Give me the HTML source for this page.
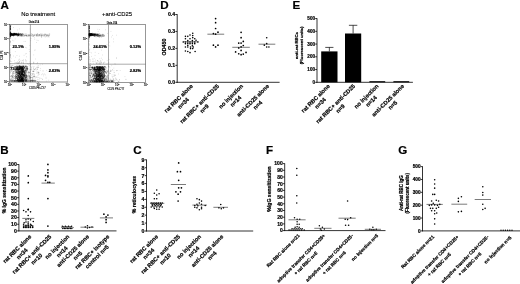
<!DOCTYPE html>
<html><head><meta charset="utf-8"><title>Figure</title>
<style>
html,body{margin:0;padding:0;background:#fff;}
body{width:520px;height:284px;overflow:hidden;}
svg{display:block;font-family:"Liberation Sans",sans-serif;filter:blur(0.3px);}
text[font-weight="bold"]{stroke:#000;stroke-width:0.2px;}
text[font-weight="normal"]{stroke:#000;stroke-width:0.12px;}
</style></head><body>
<svg width="520" height="284" viewBox="0 0 520 284">
<rect width="520" height="284" fill="#fff"/>
<text x="0.60" y="9.40" font-size="11.6" text-anchor="start" font-weight="bold">A</text>
<text x="160.30" y="9.40" font-size="11.6" text-anchor="start" font-weight="bold">D</text>
<text x="292.60" y="9.40" font-size="11.6" text-anchor="start" font-weight="bold">E</text>
<text x="0.30" y="153.70" font-size="11.6" text-anchor="start" font-weight="bold">B</text>
<text x="133.20" y="153.70" font-size="11.6" text-anchor="start" font-weight="bold">C</text>
<text x="266.00" y="153.70" font-size="11.6" text-anchor="start" font-weight="bold">F</text>
<text x="398.20" y="153.70" font-size="11.6" text-anchor="start" font-weight="bold">G</text>
<path d="M25.2 70.3h.7M25.7 75.1h.7M17.8 81.1h.7M16.5 69.0h.7M20.6 67.1h.7M21.8 81.8h.7M24.4 76.0h.7M21.3 79.4h.7M23.4 78.4h.7M23.2 72.5h.7M23.1 67.1h.7M23.4 78.2h.7M16.8 81.7h.7M21.0 69.7h.7M24.7 77.0h.7M15.6 74.6h.7M20.8 75.2h.7M25.9 66.2h.7M22.4 76.7h.7M21.0 79.2h.7M25.1 75.7h.7M17.0 76.2h.7M20.6 68.4h.7M22.3 75.2h.7M24.7 77.5h.7M18.0 75.7h.7M18.0 79.2h.7M17.9 69.4h.7M23.7 81.2h.7M21.1 72.8h.7M22.6 81.3h.7M20.8 75.7h.7M20.4 76.9h.7M21.2 79.8h.7M24.2 79.5h.7M18.9 69.4h.7M22.9 71.2h.7M20.5 74.7h.7M19.2 73.7h.7M18.5 72.7h.7M18.6 68.3h.7M26.0 76.4h.7M26.8 66.6h.7M26.0 74.8h.7M20.3 77.5h.7M19.5 79.7h.7M18.1 72.1h.7M16.7 70.0h.7M14.8 71.7h.7M23.4 71.0h.7M26.3 77.1h.7M27.3 68.1h.7M19.7 81.7h.7M18.5 77.0h.7M22.4 68.1h.7M19.7 80.1h.7M21.9 70.7h.7M19.4 78.3h.7M19.6 72.4h.7M19.9 75.8h.7M16.4 72.2h.7M19.8 74.3h.7M16.4 76.8h.7M15.1 77.8h.7M25.0 78.2h.7M15.6 74.2h.7M19.7 81.3h.7M22.2 72.7h.7M21.6 69.8h.7M26.0 77.9h.7M21.0 80.0h.7M19.0 69.5h.7M15.1 75.8h.7M19.5 77.6h.7M25.7 76.4h.7M21.8 81.4h.7M22.4 76.7h.7M19.6 75.0h.7M16.6 70.9h.7M22.9 75.1h.7M24.4 67.5h.7M20.5 81.3h.7M20.3 68.2h.7M14.5 68.8h.7M19.3 78.9h.7M25.7 71.2h.7M22.7 74.7h.7M20.2 72.8h.7M14.3 66.5h.7M23.6 69.6h.7M23.5 66.7h.7M18.5 80.8h.7M23.2 76.0h.7M21.2 72.8h.7M22.2 78.4h.7M19.2 78.6h.7M25.9 66.4h.7M14.8 70.3h.7M21.5 76.9h.7M21.7 80.5h.7M12.5 78.0h.7M24.2 75.8h.7M16.6 71.8h.7M24.4 72.4h.7M21.2 78.5h.7M16.7 66.1h.7M24.0 80.1h.7M20.5 76.2h.7M17.9 70.6h.7M21.0 72.4h.7M16.5 76.5h.7M19.3 68.3h.7M24.6 75.3h.7M26.0 81.6h.7M19.5 73.2h.7M22.8 78.7h.7M27.5 69.1h.7M18.5 70.8h.7M22.1 73.1h.7M18.8 74.0h.7M22.7 77.7h.7M21.5 67.8h.7M20.4 78.0h.7M21.5 79.8h.7M14.5 71.0h.7M23.6 78.8h.7M22.2 71.2h.7M22.4 70.6h.7M20.1 78.1h.7M16.1 76.7h.7M22.8 81.5h.7M22.3 68.0h.7M22.2 73.0h.7M21.9 71.6h.7M19.7 76.6h.7M22.4 75.6h.7M22.3 77.7h.7M26.6 68.6h.7M22.7 76.9h.7M22.9 72.1h.7M21.3 77.0h.7M15.1 67.7h.7M23.6 80.8h.7M21.8 81.8h.7M16.2 76.8h.7M25.6 79.1h.7M20.2 67.1h.7M18.5 74.0h.7M24.6 81.4h.7M19.3 68.2h.7M20.9 70.6h.7M16.0 66.4h.7M26.6 68.7h.7M18.1 66.2h.7M21.7 74.5h.7M25.9 81.2h.7M22.7 68.6h.7M19.0 74.0h.7M19.9 71.5h.7M20.6 77.1h.7M22.9 81.0h.7M20.7 78.0h.7M19.4 70.6h.7M23.4 74.6h.7M23.5 77.8h.7M19.6 66.3h.7M21.6 74.6h.7M16.0 72.5h.7M12.4 80.1h.7M23.1 71.7h.7M20.0 81.6h.7M18.7 80.9h.7M20.4 72.7h.7M22.2 68.7h.7M15.9 67.9h.7M17.4 71.9h.7M19.2 65.9h.7M22.7 70.2h.7M26.2 75.2h.7M25.3 73.5h.7M17.3 68.7h.7M22.1 71.7h.7M23.6 80.7h.7M25.1 66.5h.7M17.7 73.8h.7M20.5 76.5h.7M20.1 74.9h.7M25.0 73.9h.7M18.2 75.7h.7M21.4 77.4h.7M21.3 73.5h.7M21.1 71.7h.7M21.7 71.2h.7M22.5 66.5h.7M22.0 81.8h.7M24.8 66.0h.7M23.4 74.4h.7M22.9 78.5h.7M22.2 81.1h.7M16.4 72.1h.7M20.8 80.9h.7M22.9 74.6h.7M20.2 67.9h.7M23.6 74.3h.7M21.4 71.4h.7M23.6 80.6h.7M17.1 66.7h.7M19.5 73.1h.7M18.9 71.6h.7M22.4 79.5h.7M18.2 73.2h.7M23.3 75.1h.7M19.3 80.6h.7M23.2 76.3h.7M23.8 73.0h.7M24.0 73.3h.7M23.0 81.7h.7M20.9 77.9h.7M19.6 81.6h.7M23.2 67.2h.7M18.3 73.9h.7M18.4 81.5h.7M18.1 80.0h.7M17.4 78.9h.7M22.7 74.5h.7M22.0 74.2h.7M23.9 71.8h.7M22.8 68.0h.7M18.7 68.8h.7M19.6 73.3h.7M20.9 72.5h.7M18.6 73.3h.7M24.1 73.2h.7M19.8 75.5h.7M21.1 81.6h.7M21.0 80.5h.7M22.1 69.5h.7M18.9 73.9h.7M24.1 67.5h.7M25.7 68.2h.7M15.3 70.2h.7M19.2 69.4h.7M23.0 71.5h.7M21.0 80.0h.7M25.2 81.0h.7M25.7 70.0h.7M20.2 75.5h.7M21.8 79.8h.7M16.0 74.3h.7M26.6 80.3h.7M18.4 80.9h.7M22.0 69.7h.7M17.6 67.6h.7M17.2 76.8h.7M26.6 80.0h.7M19.4 74.4h.7M16.8 70.1h.7M19.1 74.0h.7M21.1 66.8h.7M21.6 78.5h.7M13.4 77.9h.7M15.8 75.8h.7M19.4 76.7h.7M22.5 70.0h.7M20.8 80.4h.7M18.2 77.4h.7M19.3 80.6h.7M20.6 73.7h.7M19.5 72.8h.7M22.4 69.9h.7M21.0 71.8h.7M18.0 80.6h.7M23.2 76.9h.7M25.9 77.5h.7M26.2 79.5h.7M17.4 70.5h.7M18.8 66.7h.7M19.5 79.6h.7M21.1 80.7h.7M21.4 70.4h.7M16.7 78.7h.7M21.0 76.3h.7M26.0 80.6h.7M24.6 75.8h.7M26.9 67.7h.7M20.7 76.3h.7M20.3 66.7h.7M22.5 74.6h.7M21.9 67.7h.7M22.7 81.6h.7M19.2 67.7h.7M18.6 67.2h.7M24.2 76.2h.7M19.1 77.9h.7M27.0 69.9h.7M23.8 77.6h.7M16.8 73.6h.7M17.6 69.5h.7M22.3 80.2h.7M22.6 80.4h.7M25.7 68.7h.7M17.1 73.0h.7M22.4 78.8h.7M20.5 70.8h.7M20.0 68.6h.7M18.3 70.6h.7M20.5 68.3h.7M23.2 80.8h.7M20.7 73.5h.7M20.7 67.2h.7M18.9 66.3h.7M24.9 79.5h.7M22.0 75.2h.7M17.5 79.7h.7M24.0 71.8h.7M24.2 75.4h.7M17.8 66.8h.7M17.7 71.4h.7M17.4 75.0h.7M19.5 71.9h.7M18.4 71.9h.7M15.8 73.1h.7M18.9 78.0h.7M24.5 68.0h.7M25.5 72.8h.7M18.9 76.0h.7M25.5 70.7h.7M21.4 68.4h.7M22.5 66.1h.7M20.0 71.5h.7M21.5 73.7h.7M17.3 78.3h.7M17.6 68.4h.7M17.6 72.8h.7M18.3 76.7h.7M16.3 81.7h.7M18.3 73.2h.7M20.9 78.3h.7M21.0 78.0h.7M21.6 75.1h.7M17.2 78.7h.7M21.3 74.7h.7M21.5 74.3h.7M21.6 78.3h.7M23.2 78.9h.7M22.7 79.1h.7M27.6 75.8h.7M20.6 79.9h.7M21.4 70.4h.7M27.3 68.2h.7M22.0 81.6h.7M19.5 77.5h.7M15.8 72.1h.7M27.0 69.5h.7M26.4 78.4h.7M19.0 81.7h.7M22.2 79.7h.7M14.9 72.2h.7M22.9 68.5h.7M22.2 67.6h.7M26.0 77.1h.7M18.8 77.4h.7M20.5 80.6h.7M20.7 75.7h.7M19.3 80.5h.7M19.3 72.5h.7M19.6 68.6h.7M22.0 71.0h.7M17.8 77.6h.7M17.7 66.9h.7M20.5 66.6h.7M19.6 77.3h.7M22.5 80.5h.7M21.2 68.0h.7M17.8 68.4h.7M20.2 75.4h.7M19.0 81.3h.7M23.8 70.4h.7M21.6 77.2h.7M22.9 77.3h.7M18.3 81.1h.7M15.3 79.7h.7M20.2 81.5h.7M21.2 74.0h.7M23.6 70.8h.7M22.3 66.0h.7M24.3 75.3h.7M18.5 81.3h.7M15.8 77.8h.7M22.3 78.1h.7M19.0 66.8h.7M20.3 79.4h.7M18.8 73.7h.7M17.7 71.9h.7M19.2 74.6h.7M23.7 68.3h.7M15.4 66.5h.7M23.0 71.0h.7M21.1 74.9h.7M22.2 75.0h.7M17.2 74.1h.7M21.0 73.5h.7M16.6 72.2h.7M22.6 66.8h.7M23.0 75.2h.7M22.8 66.0h.7M20.4 77.7h.7M19.6 76.2h.7M24.9 74.1h.7M15.8 78.5h.7M18.6 69.4h.7M18.8 69.0h.7M20.8 76.8h.7M19.7 79.9h.7M20.4 75.8h.7M25.8 80.0h.7M14.8 81.0h.7M17.4 80.2h.7M20.9 80.4h.7M17.5 66.5h.7M22.0 79.4h.7M26.9 68.2h.7M21.9 80.3h.7M21.7 77.9h.7M21.4 78.2h.7M19.0 80.0h.7M26.0 75.9h.7M20.2 66.8h.7M17.7 77.9h.7M17.2 75.6h.7M18.0 79.4h.7M23.5 79.7h.7M22.7 79.3h.7M22.3 81.4h.7M20.2 69.5h.7M24.4 76.5h.7M20.0 80.4h.7M19.9 67.0h.7M22.3 71.5h.7M23.1 80.0h.7M23.4 75.0h.7M22.3 74.4h.7M20.5 80.4h.7M25.5 77.5h.7M26.3 75.4h.7M23.2 66.0h.7M18.4 80.4h.7M18.5 74.2h.7M22.7 81.4h.7M25.8 75.7h.7M21.7 73.8h.7M15.7 69.9h.7M17.3 70.1h.7M24.5 71.7h.7M22.1 73.5h.7M22.4 72.6h.7M19.1 80.4h.7M22.9 75.5h.7M24.5 75.5h.7M20.7 81.0h.7M17.6 72.5h.7M17.5 70.9h.7M20.6 81.4h.7M23.1 81.0h.7M18.8 67.7h.7M20.0 79.2h.7M17.9 74.0h.7M18.4 81.7h.7M20.4 76.0h.7M25.5 66.0h.7M24.7 74.4h.7M17.0 79.9h.7M19.4 71.8h.7M18.2 75.4h.7M20.7 69.9h.7M27.2 78.2h.7M19.5 66.4h.7M20.7 70.2h.7M19.7 71.8h.7M24.2 73.1h.7M21.5 80.8h.7M22.1 74.1h.7M19.2 81.1h.7M19.6 78.7h.7M17.3 73.7h.7M22.6 67.2h.7M19.1 73.1h.7M17.7 69.5h.7M21.6 70.3h.7M16.6 77.4h.7M15.9 67.0h.7M23.0 79.4h.7M20.9 70.0h.7M25.7 71.5h.7M19.7 79.1h.7M21.0 80.0h.7M18.4 67.9h.7M17.7 74.1h.7M21.2 66.9h.7M16.6 80.6h.7M17.7 79.6h.7M18.1 73.4h.7M21.8 70.0h.7M21.8 66.5h.7M19.1 76.5h.7M17.9 81.2h.7M15.0 77.5h.7M22.0 78.1h.7M21.5 74.4h.7M24.8 80.1h.7M16.0 68.3h.7M22.5 78.2h.7M21.5 79.1h.7M19.3 78.8h.7M24.6 72.9h.7M22.9 81.7h.7M20.3 72.6h.7M23.2 69.8h.7M22.2 79.2h.7M21.7 71.2h.7M21.6 79.8h.7M22.1 67.6h.7M25.4 77.4h.7M21.2 81.6h.7M21.9 79.8h.7M21.5 66.9h.7M21.5 81.2h.7M21.2 78.5h.7M17.2 78.5h.7M20.4 75.3h.7M19.8 77.9h.7M15.9 71.0h.7M25.6 80.6h.7M23.0 76.8h.7M21.7 67.6h.7M19.2 74.6h.7M20.2 80.2h.7M21.6 73.5h.7M23.8 75.4h.7M18.3 72.9h.7M19.8 71.7h.7M21.5 76.3h.7M18.5 75.7h.7M24.8 78.6h.7M22.5 71.0h.7M15.1 78.9h.7M17.8 80.1h.7M17.5 81.7h.7M23.8 74.4h.7M21.7 71.8h.7M22.8 66.5h.7M21.6 79.2h.7M21.2 74.3h.7M28.5 76.0h.7M20.4 74.8h.7M26.4 70.6h.7M17.3 74.9h.7M24.0 74.1h.7M24.2 79.3h.7M19.7 68.3h.7M21.1 69.3h.7M21.7 80.3h.7M22.4 70.0h.7M24.5 70.8h.7M22.2 73.4h.7M26.3 67.1h.7M22.2 71.0h.7M22.9 66.5h.7M19.8 79.2h.7M25.4 70.2h.7M18.4 68.8h.7M18.1 71.4h.7M23.3 81.3h.7M25.0 75.9h.7M27.2 81.2h.7M17.7 80.0h.7M20.5 74.3h.7M20.8 80.9h.7M25.6 72.6h.7M14.8 76.0h.7M22.9 72.4h.7M20.5 66.0h.7M16.6 77.5h.7M17.5 80.1h.7M20.4 66.3h.7M15.2 76.4h.7M25.9 80.1h.7M20.5 74.9h.7M14.8 76.8h.7M21.0 72.7h.7M19.2 78.6h.7M15.6 81.6h.7M22.3 69.4h.7M25.6 81.6h.7M22.2 69.4h.7M25.0 66.4h.7M15.2 69.3h.7M15.3 68.5h.7M18.2 69.1h.7M15.4 72.1h.7M20.1 81.0h.7M21.8 78.5h.7M17.6 79.3h.7M23.9 72.0h.7M22.9 80.5h.7M18.6 76.2h.7M21.9 78.3h.7M21.8 79.7h.7M25.3 78.6h.7M22.4 69.0h.7M23.3 70.7h.7M22.9 73.3h.7M25.5 71.7h.7M23.3 69.4h.7M19.4 69.8h.7M18.5 78.6h.7M26.2 68.9h.7M23.7 75.5h.7M21.7 68.8h.7M17.2 72.9h.7M23.5 68.9h.7M24.6 67.2h.7M24.1 72.2h.7M19.6 81.7h.7M24.9 69.9h.7M19.5 80.6h.7M18.9 77.9h.7M18.4 73.7h.7M22.0 80.4h.7M17.9 81.7h.7M23.8 74.6h.7M20.6 76.4h.7M17.4 80.6h.7M17.8 79.1h.7M16.5 74.6h.7M26.2 73.0h.7M21.8 80.1h.7M19.2 77.0h.7M19.0 75.2h.7M24.8 74.8h.7M24.8 81.3h.7M20.8 71.9h.7M21.6 78.8h.7M20.2 78.2h.7M18.5 80.0h.7M21.3 76.7h.7M22.0 74.9h.7M17.0 79.4h.7M21.4 76.4h.7M23.4 80.2h.7M22.3 79.8h.7M22.1 78.3h.7M18.9 66.4h.7M19.1 71.1h.7M20.4 79.4h.7M20.9 77.9h.7M18.4 76.8h.7M17.6 72.7h.7M15.9 73.0h.7M19.3 73.6h.7M21.3 81.4h.7M21.4 68.5h.7M18.9 77.6h.7M17.0 67.7h.7M18.2 75.2h.7M24.4 76.1h.7M20.3 67.5h.7M20.6 68.3h.7M19.5 73.1h.7M25.9 79.4h.7M20.3 70.4h.7M20.4 69.1h.7M16.0 34.8h.7M10.9 33.4h.7M14.9 34.9h.7M14.2 33.3h.7M12.1 34.6h.7M14.0 34.1h.7M10.1 34.7h.7M16.6 34.1h.7M11.8 34.3h.7M11.2 34.2h.7M16.3 34.0h.7M14.3 34.7h.7M13.0 33.9h.7M16.6 34.7h.7M14.2 34.0h.7M13.3 35.1h.7M13.5 35.1h.7M14.4 34.4h.7M15.1 34.5h.7M10.3 34.3h.7M14.8 34.2h.7M13.3 34.0h.7M13.5 34.5h.7M14.0 34.0h.7M13.2 34.7h.7M10.2 34.7h.7M12.3 34.3h.7M11.4 34.6h.7M10.5 35.6h.7M9.9 34.5h.7M15.6 34.2h.7M15.2 34.5h.7M15.2 34.4h.7M9.9 34.9h.7M14.3 33.8h.7M11.1 34.2h.7M11.2 33.4h.7M12.1 34.5h.7M16.6 34.3h.7M9.9 33.9h.7M11.9 34.4h.7M13.0 34.9h.7M14.5 34.6h.7M11.2 34.4h.7M14.3 34.4h.7M12.6 34.6h.7M13.4 34.5h.7M16.4 34.8h.7M10.0 33.2h.7M13.0 34.4h.7M15.7 34.4h.7M10.6 34.7h.7M11.0 33.4h.7M12.5 35.3h.7M14.5 33.3h.7M14.5 34.3h.7M13.3 33.7h.7M13.4 35.1h.7M14.5 34.4h.7M12.1 34.7h.7M9.9 34.4h.7M12.3 34.0h.7M11.2 34.5h.7M11.7 34.7h.7M10.1 34.5h.7M12.8 34.9h.7M12.1 34.9h.7M13.6 34.3h.7M15.6 34.6h.7M15.7 33.3h.7M14.1 35.0h.7M14.8 34.4h.7M11.5 34.8h.7M10.8 34.4h.7M15.1 34.1h.7M12.6 34.2h.7M14.9 35.1h.7M10.2 34.1h.7M11.6 35.0h.7M12.3 34.1h.7M11.5 34.5h.7M11.5 34.9h.7M12.2 34.7h.7M11.9 35.5h.7M16.4 33.7h.7M11.9 34.6h.7M14.6 34.7h.7M11.9 34.7h.7M11.4 34.5h.7M11.8 34.7h.7M11.9 35.1h.7M14.9 34.5h.7M15.8 34.9h.7M12.5 34.6h.7M11.1 34.7h.7M11.1 35.7h.7M12.0 35.1h.7M14.5 34.1h.7M10.6 34.6h.7M14.3 34.5h.7M13.8 34.9h.7M12.2 34.1h.7M11.0 34.6h.7M11.6 34.9h.7M10.4 34.7h.7M14.5 34.7h.7M16.3 35.2h.7M14.1 34.7h.7M13.6 34.8h.7M14.4 34.0h.7M16.6 33.9h.7M11.4 35.0h.7M10.2 33.9h.7M16.1 34.3h.7M13.4 33.2h.7M10.5 35.9h.7M9.8 33.9h.7M11.5 34.8h.7M11.0 34.5h.7M16.0 34.0h.7M15.3 33.5h.7M14.0 33.7h.7M9.8 33.2h.7M12.9 34.5h.7M12.5 34.8h.7M10.3 33.8h.7M14.0 34.2h.7M14.5 35.1h.7M13.9 34.1h.7M9.8 34.2h.7M14.7 34.1h.7M15.0 34.8h.7M14.6 34.2h.7M10.0 35.0h.7M11.7 34.0h.7M10.9 33.7h.7M13.1 34.6h.7M13.2 34.9h.7M12.8 35.0h.7M10.1 33.4h.7M13.1 34.7h.7M10.7 35.1h.7M14.5 34.3h.7M10.3 34.3h.7M12.1 33.9h.7M14.4 35.0h.7M15.0 34.8h.7M11.3 34.4h.7M12.8 34.2h.7M10.9 34.8h.7M12.1 34.0h.7M16.1 34.5h.7M14.3 34.5h.7M11.0 34.2h.7M13.9 34.0h.7M14.8 34.7h.7M10.0 34.2h.7M13.7 34.6h.7M14.9 34.0h.7M13.6 33.9h.7M16.2 34.0h.7M11.1 34.1h.7M11.6 34.6h.7M12.9 33.8h.7M12.9 33.7h.7M14.2 34.6h.7M11.2 33.6h.7M12.8 35.4h.7M14.4 34.2h.7M11.6 34.4h.7M16.4 34.3h.7M13.0 35.3h.7M13.4 34.9h.7M14.2 34.9h.7M11.4 35.1h.7M12.1 34.2h.7M11.9 34.9h.7M11.2 34.2h.7M10.3 34.8h.7M13.4 34.1h.7M10.6 34.5h.7M10.3 35.2h.7M10.3 35.7h.7M16.3 34.3h.7M11.5 34.4h.7M14.3 33.8h.7M10.7 33.9h.7M13.9 34.0h.7M14.7 34.5h.7M11.2 34.1h.7M14.9 33.6h.7M10.0 35.6h.7M14.4 34.1h.7M11.9 34.6h.7M14.6 33.5h.7M10.0 34.6h.7M12.8 34.8h.7M15.8 34.2h.7M10.7 34.9h.7M9.9 35.3h.7M10.0 34.0h.7M13.1 36.1h.7M11.0 34.0h.7M12.8 33.6h.7M9.9 34.0h.7M13.9 34.1h.7M10.8 33.8h.7M12.6 34.6h.7M16.2 34.3h.7M11.1 34.8h.7M15.1 34.3h.7M15.5 34.1h.7M9.9 32.3h.7M10.1 27.7h.7M10.2 36.7h.7M10.1 29.6h.7M10.3 36.3h.7M10.1 26.6h.7M10.3 31.9h.7M9.9 36.4h.7M9.9 29.0h.7M10.3 32.8h.7M10.1 31.8h.7M10.1 32.4h.7M10.1 34.5h.7M10.1 34.8h.7M10.1 32.5h.7M10.0 28.6h.7M10.3 35.3h.7M10.4 25.8h.7M10.3 34.0h.7M10.1 36.7h.7M10.3 34.2h.7M10.2 33.4h.7M10.4 32.3h.7M10.1 28.3h.7M10.1 26.3h.7M10.2 28.4h.7M10.2 34.6h.7M10.0 36.4h.7M10.0 27.0h.7M10.4 29.3h.7M10.0 26.4h.7M10.1 37.1h.7M10.1 30.1h.7M10.1 34.7h.7M10.2 34.5h.7M9.9 35.6h.7M10.4 25.6h.7M10.2 26.0h.7M10.1 29.6h.7M10.3 29.3h.7M10.3 33.8h.7M10.4 34.1h.7M10.2 28.0h.7M9.9 30.1h.7M10.3 33.9h.7M10.0 27.3h.7M10.2 34.6h.7M10.2 26.2h.7M10.2 32.2h.7M10.1 28.3h.7" stroke="#000" stroke-width="0.7" opacity="0.6" fill="none"/>
<path d="M21.1 75.9h.7M20.9 79.3h.7M17.6 66.0h.7M23.2 71.1h.7M16.9 68.1h.7M23.0 71.5h.7M12.0 74.3h.7M19.9 74.2h.7M26.7 69.3h.7M21.3 70.8h.7M15.6 69.7h.7M19.2 78.6h.7M21.3 71.4h.7M18.9 66.4h.7M22.5 80.1h.7M18.3 68.3h.7M25.0 77.5h.7M20.9 80.1h.7M22.3 73.3h.7M19.5 73.2h.7M20.6 68.4h.7M22.5 73.0h.7M21.3 78.7h.7M22.4 73.9h.7M18.6 69.9h.7M22.0 79.1h.7M23.7 66.5h.7M25.2 81.4h.7M19.5 73.0h.7M21.1 78.5h.7M22.4 75.9h.7M22.3 75.0h.7M19.7 81.3h.7M23.7 66.2h.7M14.0 78.3h.7M20.5 80.5h.7M23.8 67.8h.7M21.7 67.7h.7M16.2 80.2h.7M19.9 81.4h.7M22.2 78.8h.7M21.6 74.0h.7M21.8 78.0h.7M19.5 73.4h.7M16.1 67.9h.7M20.2 73.8h.7M21.0 66.3h.7M28.0 80.5h.7M16.9 72.2h.7M22.5 80.7h.7M19.2 79.0h.7M21.1 69.8h.7M25.6 80.8h.7M24.7 74.2h.7M21.4 68.2h.7M20.5 75.6h.7M23.8 70.9h.7M16.1 70.0h.7M15.5 70.3h.7M18.8 78.7h.7M21.0 77.4h.7M25.7 76.6h.7M23.9 72.3h.7M14.9 66.6h.7M15.5 80.1h.7M26.0 69.4h.7M19.7 79.2h.7M26.0 67.6h.7M23.9 68.2h.7M19.5 80.3h.7M22.5 81.4h.7M20.9 68.8h.7M22.2 72.2h.7M18.0 81.1h.7M23.3 71.4h.7M24.2 76.9h.7M20.4 69.8h.7M22.2 77.6h.7M25.2 80.9h.7M20.0 75.8h.7M15.1 67.9h.7M20.2 69.4h.7M27.4 66.5h.7M17.3 67.3h.7M19.5 66.0h.7M19.6 77.3h.7M22.8 76.5h.7M21.7 80.0h.7M24.1 68.8h.7M21.5 78.4h.7M26.5 71.0h.7M17.2 69.3h.7M23.6 74.1h.7M23.5 66.0h.7M15.0 67.9h.7M25.4 67.8h.7M22.9 75.6h.7M18.5 77.1h.7M23.1 78.8h.7M23.6 74.8h.7M17.5 66.4h.7M22.1 71.1h.7M18.3 76.3h.7M22.8 69.8h.7M14.2 80.8h.7M19.9 68.0h.7M24.7 79.5h.7M24.2 72.3h.7M20.6 70.4h.7M21.6 68.2h.7M20.0 77.8h.7M20.9 72.5h.7M21.0 74.3h.7M22.5 73.9h.7M21.4 73.8h.7M21.4 79.3h.7M22.7 70.2h.7M23.6 79.1h.7M20.5 77.9h.7M24.9 77.4h.7M17.2 73.2h.7M16.3 76.6h.7M18.4 76.7h.7M19.9 77.1h.7M16.8 78.1h.7M25.0 80.5h.7M27.0 79.4h.7M21.7 72.1h.7M20.8 66.8h.7M15.0 75.7h.7M19.5 66.2h.7M23.1 72.3h.7M20.0 72.0h.7M18.2 71.3h.7M16.6 80.0h.7M22.9 70.3h.7M25.9 69.2h.7M24.1 67.7h.7M21.5 67.1h.7M17.7 69.8h.7M20.8 71.1h.7M18.6 75.3h.7M22.1 79.7h.7M19.9 73.9h.7M21.5 79.7h.7M19.0 76.2h.7M22.2 72.2h.7M17.3 79.3h.7M24.3 78.4h.7M18.7 81.5h.7M26.5 80.9h.7M19.3 80.7h.7M19.6 76.9h.7M15.4 80.6h.7M21.6 72.0h.7M14.8 66.5h.7M22.4 74.3h.7M24.6 77.3h.7M26.6 81.4h.7M20.5 75.7h.7M27.2 76.7h.7M20.7 69.7h.7M15.8 78.5h.7M17.8 69.9h.7M19.7 72.7h.7M22.2 72.7h.7M21.4 78.7h.7M19.8 80.1h.7M21.0 78.5h.7M24.7 68.3h.7M21.7 78.0h.7M22.2 78.0h.7M21.8 73.5h.7M20.9 81.5h.7M23.2 77.7h.7M25.1 81.2h.7M24.1 71.5h.7M22.6 66.8h.7M23.3 75.5h.7M22.1 75.9h.7M24.0 73.5h.7M21.9 80.6h.7M25.3 79.2h.7M20.5 79.7h.7M26.7 70.7h.7M21.2 74.1h.7M24.7 70.6h.7M22.6 80.6h.7M20.9 70.9h.7M24.2 81.0h.7M23.1 79.6h.7M19.0 69.1h.7M22.0 69.7h.7M21.9 74.4h.7M21.2 73.9h.7M17.5 68.1h.7M22.9 68.8h.7M23.0 74.4h.7M16.0 74.9h.7M27.5 68.6h.7M25.5 79.0h.7M24.0 67.0h.7M21.5 74.8h.7M23.8 74.3h.7M15.7 72.0h.7M20.4 76.1h.7M20.2 71.5h.7M19.2 71.0h.7M23.0 81.1h.7M19.9 76.0h.7M20.7 79.2h.7M25.4 74.8h.7M15.1 73.4h.7M21.5 72.3h.7M21.6 79.8h.7M18.2 79.9h.7M15.7 81.4h.7M19.1 79.2h.7M23.5 75.5h.7M21.9 76.2h.7M24.8 75.9h.7M17.3 78.0h.7M21.3 67.7h.7M26.7 77.8h.7M19.4 73.4h.7M23.6 76.5h.7M19.0 71.5h.7M22.5 67.8h.7M23.9 73.2h.7M19.2 76.9h.7M16.0 66.1h.7M16.7 71.5h.7M25.7 80.2h.7M22.3 77.7h.7M25.0 79.6h.7M26.8 79.8h.7M22.6 69.4h.7M23.6 80.9h.7M17.2 77.4h.7M24.2 72.2h.7M23.0 81.4h.7M14.3 76.5h.7M20.3 74.8h.7M20.4 80.0h.7M22.3 72.2h.7M20.7 80.4h.7M22.2 67.9h.7M20.9 71.0h.7M22.5 66.6h.7M20.5 72.6h.7M19.6 73.5h.7M21.5 80.3h.7M17.2 76.2h.7M19.0 71.7h.7M19.6 71.8h.7M19.0 71.5h.7M26.2 67.8h.7M19.9 81.7h.7M18.2 75.7h.7M25.4 72.5h.7M19.8 71.2h.7M18.7 67.6h.7M16.0 78.4h.7M22.6 76.5h.7M25.3 80.6h.7M22.4 81.8h.7M13.5 72.7h.7M15.4 78.0h.7M18.6 75.3h.7M23.2 67.5h.7M19.9 69.9h.7M21.6 70.0h.7M18.5 79.0h.7M24.8 71.8h.7M23.4 75.4h.7M21.5 80.5h.7M21.5 74.3h.7M25.1 69.1h.7M23.1 71.4h.7M20.1 68.9h.7M20.3 80.0h.7M15.8 67.1h.7M18.7 72.2h.7M22.2 77.2h.7M15.7 75.9h.7M18.0 77.3h.7M19.9 81.4h.7M24.7 70.3h.7M18.0 70.3h.7M22.4 71.7h.7M17.8 79.4h.7M17.5 75.8h.7M16.9 75.5h.7M23.2 73.9h.7M19.4 68.9h.7M24.9 76.7h.7M21.4 80.2h.7M22.4 72.0h.7M17.9 77.6h.7M24.0 76.1h.7M20.9 66.1h.7M20.4 71.4h.7M18.6 68.1h.7M19.0 66.0h.7M21.8 74.2h.7M17.2 81.2h.7M18.3 76.2h.7M20.9 81.5h.7M13.9 73.7h.7M16.4 80.4h.7M22.0 79.6h.7M26.9 76.2h.7M18.0 70.1h.7M17.9 66.4h.7M24.2 79.1h.7M19.2 81.8h.7M21.9 67.7h.7M21.3 68.1h.7M18.3 71.6h.7M26.7 75.9h.7M14.8 67.5h.7M18.0 81.7h.7M22.5 73.1h.7M16.9 71.9h.7M16.2 71.0h.7M22.7 72.0h.7M21.2 80.9h.7M20.7 68.6h.7M20.4 67.2h.7M21.9 80.8h.7M21.8 68.1h.7M17.3 77.2h.7M23.0 77.1h.7M22.7 80.6h.7M22.3 77.5h.7M19.1 65.9h.7M24.6 81.1h.7M19.5 72.1h.7M21.9 72.1h.7M22.4 67.4h.7M21.9 78.8h.7M16.9 67.0h.7M20.9 73.4h.7M21.9 80.1h.7M16.4 67.4h.7M18.4 72.0h.7M23.0 80.1h.7M23.9 70.7h.7M18.6 76.8h.7M16.8 67.6h.7M22.0 72.3h.7M18.0 79.2h.7M18.5 72.9h.7M20.0 80.2h.7M22.1 81.3h.7M19.2 74.5h.7M21.1 66.6h.7M17.3 68.7h.7M18.9 79.4h.7M21.8 71.2h.7M14.8 78.2h.7M24.6 78.5h.7M19.4 70.0h.7M22.1 71.0h.7M21.7 76.9h.7M18.9 69.5h.7M24.2 77.0h.7M19.2 74.9h.7M34.2 76.2h.7M37.4 81.4h.7M30.3 77.6h.7M30.3 81.8h.7M42.7 70.9h.7M29.9 77.4h.7M33.3 71.5h.7M29.4 76.5h.7M28.4 78.0h.7M39.5 78.1h.7M38.1 67.5h.7M37.9 74.0h.7M29.1 77.4h.7M29.5 81.5h.7M42.1 79.3h.7M28.7 76.1h.7M29.7 69.7h.7M37.1 67.3h.7M37.8 65.9h.7M32.6 73.6h.7M37.1 69.4h.7M32.4 74.4h.7M28.8 76.2h.7M31.4 69.7h.7M36.2 77.1h.7M28.5 71.4h.7M29.9 80.7h.7M29.2 72.6h.7M33.0 63.0h.7M31.2 77.6h.7M29.2 75.6h.7M37.6 81.6h.7M38.2 72.5h.7M28.5 72.7h.7M29.6 78.9h.7M33.2 76.6h.7M37.1 62.9h.7M33.9 76.7h.7M28.8 77.9h.7M37.7 72.8h.7M31.7 77.4h.7M28.8 72.4h.7M32.1 80.0h.7M29.9 64.2h.7M34.4 69.5h.7M28.1 79.4h.7M36.5 67.3h.7M32.4 71.3h.7M11.0 66.9h.7M11.3 75.6h.7M12.0 76.5h.7M11.7 70.4h.7M12.8 71.5h.7M10.3 66.2h.7M11.9 65.8h.7M11.5 76.5h.7M11.2 79.0h.7M12.7 75.4h.7M10.9 76.0h.7M11.9 73.3h.7M10.4 80.2h.7M11.0 71.2h.7M12.8 81.8h.7M11.0 66.4h.7M13.3 71.5h.7M11.3 68.3h.7M12.4 77.6h.7M11.7 65.5h.7M12.8 73.7h.7M12.7 80.0h.7M11.1 79.1h.7M12.2 68.1h.7M12.7 76.8h.7M11.2 80.9h.7M31.5 80.6h.7M34.9 80.8h.7M11.6 81.1h.7M15.1 81.2h.7M19.7 80.8h.7M35.3 81.2h.7M34.5 80.9h.7M30.5 80.6h.7M19.1 80.7h.7M29.0 81.0h.7M33.7 80.6h.7M10.3 80.6h.7M19.9 80.5h.7M11.5 80.6h.7M23.1 81.1h.7M22.6 80.6h.7M21.0 80.9h.7M32.6 80.6h.7M15.6 80.9h.7M20.3 81.1h.7M15.2 81.2h.7M14.3 81.0h.7M16.5 80.7h.7M12.4 81.1h.7M34.6 80.8h.7M14.7 80.6h.7M10.4 81.1h.7M13.5 81.0h.7M22.0 80.6h.7M22.7 80.6h.7M34.5 81.3h.7M12.7 80.7h.7M17.5 80.9h.7M26.8 81.0h.7M32.2 81.3h.7M16.7 81.3h.7M16.6 80.5h.7M10.7 80.9h.7M15.6 80.7h.7M14.2 80.7h.7M23.3 80.5h.7M12.0 80.9h.7M33.3 80.9h.7M20.9 80.6h.7M31.2 80.7h.7M20.4 81.0h.7M17.2 80.5h.7M12.0 81.2h.7M26.2 80.6h.7M35.1 80.8h.7M32.0 81.0h.7M23.2 80.7h.7M14.5 80.7h.7M20.9 81.3h.7M19.1 80.7h.7M30.5 80.8h.7M28.5 81.0h.7M17.9 81.0h.7M21.2 81.0h.7M32.7 80.7h.7M13.9 81.2h.7M22.2 80.8h.7M27.8 81.0h.7M24.8 80.8h.7M17.5 80.7h.7M18.8 81.2h.7M13.7 80.8h.7M22.1 80.6h.7M32.4 81.1h.7M30.0 80.8h.7M24.4 80.5h.7M14.4 81.0h.7M20.5 81.1h.7M25.8 80.6h.7M22.3 81.2h.7M16.7 80.7h.7M21.8 81.3h.7M16.5 80.9h.7M18.2 81.1h.7M19.8 81.2h.7M32.7 81.0h.7M22.0 80.9h.7M21.5 80.6h.7M14.0 80.9h.7M14.0 81.3h.7M28.0 81.0h.7M29.0 80.9h.7M10.9 81.2h.7M10.7 80.8h.7M20.4 81.1h.7M17.7 81.0h.7M32.1 80.6h.7M31.1 80.7h.7M13.1 81.0h.7M31.0 81.1h.7M28.6 81.2h.7M30.9 81.1h.7M16.6 80.5h.7M12.8 80.6h.7M17.5 81.1h.7M13.7 81.3h.7M19.7 80.9h.7M18.0 81.3h.7M32.8 80.6h.7M26.1 81.2h.7M13.8 80.9h.7M14.4 81.1h.7M15.6 80.7h.7M27.1 81.1h.7M34.3 80.8h.7M30.3 80.8h.7M21.9 80.9h.7M20.9 81.2h.7M34.1 81.0h.7M11.4 81.2h.7M19.8 80.7h.7M22.8 81.0h.7M33.2 81.2h.7M16.9 80.6h.7M22.0 80.9h.7M17.4 34.8h.7M18.3 34.9h.7M20.3 34.6h.7M19.1 35.6h.7M18.7 34.7h.7M19.0 34.2h.7M18.3 34.1h.7M19.7 34.3h.7M18.5 33.7h.7M16.8 34.8h.7M18.3 34.6h.7M17.2 34.6h.7M17.9 33.8h.7M17.1 35.0h.7M16.7 34.1h.7M18.1 34.4h.7M18.2 34.5h.7M16.7 34.6h.7M17.0 35.1h.7M16.7 34.4h.7M17.2 34.6h.7M18.0 35.3h.7M17.8 34.6h.7M18.6 34.3h.7M19.9 34.0h.7M16.7 34.9h.7M19.9 35.0h.7M18.0 34.2h.7M18.1 35.5h.7M19.4 34.5h.7M16.7 33.3h.7M18.0 34.1h.7M18.7 34.1h.7M16.7 34.8h.7M19.3 34.1h.7M16.8 34.8h.7M20.4 35.7h.7M17.9 34.4h.7M18.0 35.2h.7M18.6 34.5h.7M17.2 33.6h.7M18.5 33.8h.7M19.6 34.8h.7M17.2 34.5h.7M18.1 32.9h.7M17.6 33.9h.7M17.7 35.3h.7M18.1 34.8h.7M17.8 35.4h.7M20.4 33.5h.7M16.8 33.5h.7M17.3 36.1h.7M18.5 34.1h.7M22.5 35.5h.7M17.2 35.3h.7M20.9 34.4h.7M19.1 33.9h.7M19.9 33.7h.7M18.8 35.5h.7M22.4 35.8h.7M22.1 34.0h.7M17.8 35.8h.7M17.6 34.9h.7M21.2 35.6h.7M18.2 35.4h.7M22.3 34.6h.7M18.7 36.0h.7M21.4 34.9h.7M17.9 33.8h.7M19.6 34.2h.7M20.7 35.0h.7M16.2 34.8h.7M20.8 35.0h.7M17.9 34.4h.7M17.1 35.0h.7M20.5 36.3h.7M17.2 34.5h.7M18.3 35.3h.7M21.0 36.5h.7M17.8 34.4h.7M18.7 35.7h.7M22.4 33.6h.7M19.2 34.5h.7M20.8 34.6h.7M20.5 35.2h.7M20.8 35.1h.7M20.4 35.5h.7M21.4 35.2h.7M17.2 36.0h.7M22.1 35.8h.7M18.4 35.5h.7M21.0 34.8h.7M16.7 35.1h.7M18.3 35.6h.7" stroke="#000" stroke-width="0.7" opacity="0.4" fill="none"/>
<path d="M18.1 60.2h.7M25.2 60.8h.7M17.6 62.6h.7M21.1 62.8h.7M23.0 59.7h.7M18.1 62.7h.7M14.0 60.7h.7M21.2 62.9h.7M17.6 63.7h.7M19.2 62.0h.7M22.7 60.5h.7M25.7 62.9h.7M33.4 62.1h.7M20.6 60.4h.7M19.3 63.0h.7M17.9 63.4h.7M16.4 62.6h.7M15.3 62.6h.7M11.4 61.6h.7M18.5 63.3h.7M25.7 61.0h.7M17.4 61.7h.7M16.6 62.7h.7M13.2 56.0h.7M29.5 61.9h.7M29.0 63.4h.7M14.4 62.9h.7M16.5 63.2h.7M22.1 62.3h.7M17.1 63.4h.7M22.0 60.4h.7M18.9 59.1h.7M23.1 62.8h.7M17.9 62.9h.7M23.1 61.2h.7M23.2 63.1h.7M19.3 61.7h.7M19.6 62.1h.7M27.7 63.4h.7M19.0 62.0h.7M43.0 75.9h.7M35.7 81.8h.7M42.0 73.8h.7M44.1 74.0h.7M40.8 78.5h.7M30.0 77.8h.7M27.7 72.5h.7M31.1 75.5h.7M33.4 69.2h.7M39.4 81.3h.7M34.9 76.8h.7M34.6 79.9h.7M39.8 64.9h.7M38.5 73.0h.7M28.4 81.3h.7M35.8 70.1h.7M32.2 79.8h.7M36.6 63.8h.7M32.0 81.4h.7M48.4 80.2h.7M29.4 65.6h.7M32.1 77.5h.7M27.7 72.3h.7M27.7 81.1h.7M29.7 78.5h.7M33.6 62.9h.7M28.9 80.5h.7M27.7 81.0h.7M28.9 79.5h.7M29.9 69.6h.7M32.5 75.7h.7M33.1 79.9h.7M46.3 70.4h.7M30.0 66.6h.7M29.6 76.9h.7M32.7 77.9h.7M36.7 72.0h.7M31.1 68.3h.7M30.5 69.9h.7M36.8 68.7h.7M38.7 72.6h.7M29.9 80.8h.7M27.7 74.0h.7M31.5 73.4h.7M41.0 74.7h.7M28.1 74.6h.7M30.0 77.0h.7M32.8 71.5h.7M30.3 71.4h.7M29.7 80.7h.7M30.0 72.2h.7M27.7 73.0h.7M46.0 81.1h.7M28.2 64.7h.7M42.2 64.3h.7M32.5 73.9h.7M28.8 77.0h.7M28.2 72.2h.7M31.5 80.3h.7M35.3 68.9h.7M36.3 80.4h.7M33.2 70.7h.7M32.8 76.3h.7M30.0 81.2h.7M37.3 79.3h.7M30.0 74.6h.7M40.2 68.4h.7M29.2 73.8h.7M44.9 74.9h.7M31.6 66.7h.7M37.9 77.5h.7M30.4 81.2h.7M38.6 79.5h.7M30.4 64.2h.7M29.3 78.5h.7M32.7 76.9h.7M35.2 78.0h.7M31.8 79.3h.7M37.1 77.2h.7M33.7 79.0h.7M32.3 81.7h.7M42.9 74.3h.7M33.7 66.6h.7M33.3 68.2h.7M32.1 78.8h.7M31.0 67.6h.7M34.9 80.4h.7M31.4 79.9h.7M36.7 72.2h.7M32.0 78.2h.7M34.4 71.4h.7M32.7 71.3h.7M33.2 71.7h.7M29.4 80.2h.7M30.3 73.8h.7M45.7 77.3h.7M34.3 69.8h.7M45.7 78.4h.7M33.5 74.1h.7M33.5 68.9h.7M37.8 71.3h.7M34.1 74.6h.7M33.7 75.7h.7M38.9 74.3h.7M32.0 80.6h.7M32.8 80.9h.7M33.8 76.8h.7M39.9 70.4h.7M33.7 73.8h.7M35.2 68.3h.7M33.4 67.2h.7M37.7 75.5h.7M29.8 80.5h.7M30.6 74.0h.7M28.7 72.3h.7M35.7 69.2h.7M27.9 73.2h.7M34.5 76.7h.7M36.5 73.5h.7M12.2 76.5h.7M11.3 81.2h.7M12.7 72.3h.7M11.2 68.6h.7M12.2 77.2h.7M10.2 64.7h.7M11.4 70.8h.7M12.8 73.4h.7M10.0 76.1h.7M12.6 75.1h.7M10.2 76.3h.7M13.3 73.6h.7M12.7 72.5h.7M10.1 67.3h.7M10.8 78.0h.7M12.0 72.7h.7M13.2 68.1h.7M12.2 69.4h.7M11.9 80.7h.7M11.5 75.8h.7M10.0 69.8h.7M11.9 80.9h.7M12.7 75.8h.7M13.3 65.9h.7M11.5 77.4h.7M12.8 79.9h.7M12.1 75.8h.7M10.7 80.4h.7M12.7 71.3h.7M12.8 76.1h.7M12.8 75.0h.7M12.6 79.3h.7M21.0 34.1h.7M21.4 35.0h.7M21.8 34.8h.7M21.2 34.0h.7M21.5 34.2h.7M22.4 33.7h.7M20.6 34.0h.7M22.5 34.3h.7M21.4 35.2h.7M20.8 35.0h.7M24.9 35.5h.7M25.2 33.8h.7M21.0 34.0h.7M20.6 33.5h.7M22.3 34.7h.7M23.0 34.3h.7M25.1 35.1h.7M25.9 33.8h.7M20.6 33.8h.7M21.3 35.0h.7M36.2 35.7h.7M29.1 35.6h.7M34.3 35.5h.7M41.0 36.2h.7M40.0 36.0h.7M41.2 34.4h.7M37.5 36.2h.7M38.7 36.0h.7M25.9 35.5h.7M44.7 34.6h.7M45.4 34.0h.7M24.3 36.0h.7M38.9 35.0h.7M40.8 34.7h.7M29.3 34.6h.7M22.9 35.8h.7M25.6 35.3h.7M27.3 35.7h.7M45.3 36.0h.7M38.7 34.6h.7M36.5 34.5h.7M38.6 34.9h.7M28.6 35.1h.7M29.3 35.8h.7M41.0 36.6h.7M42.8 35.6h.7M38.9 35.1h.7M27.8 34.9h.7M29.4 35.3h.7M49.0 33.9h.7M26.7 36.1h.7M23.0 34.7h.7M33.1 35.8h.7M43.2 35.0h.7M41.9 35.6h.7M48.5 35.1h.7M44.3 33.9h.7M43.5 34.4h.7M41.3 37.0h.7M47.8 34.2h.7M31.4 35.3h.7M44.5 34.5h.7M25.5 35.5h.7M33.7 35.3h.7M46.7 35.4h.7M26.4 35.4h.7M39.3 35.4h.7M25.8 35.5h.7M46.1 35.2h.7M26.1 35.8h.7M33.1 35.6h.7M45.0 34.2h.7M31.1 35.4h.7M36.3 34.9h.7M28.9 36.0h.7M46.0 35.8h.7M31.5 36.4h.7M27.6 36.2h.7M46.9 35.1h.7M23.4 34.7h.7M42.8 35.1h.7M34.0 37.2h.7M31.6 34.2h.7M48.6 37.2h.7M32.5 34.9h.7M30.3 35.3h.7M45.3 35.0h.7M38.6 35.7h.7M24.2 34.1h.7M32.3 34.8h.7M44.8 37.2h.7M36.5 35.6h.7M37.6 35.5h.7M47.3 35.4h.7M32.0 34.4h.7M30.4 35.5h.7M29.7 35.8h.7M23.8 35.7h.7M46.4 35.8h.7M41.3 35.5h.7M37.2 34.6h.7M35.7 35.9h.7M49.0 35.8h.7M31.6 35.4h.7M40.3 35.6h.7M47.3 35.9h.7M24.5 35.8h.7M28.6 34.4h.7M27.6 36.6h.7M44.2 35.6h.7M32.1 35.8h.7M36.9 34.9h.7M48.8 35.2h.7M41.5 33.7h.7M49.4 33.9h.7M35.8 34.3h.7M40.9 35.8h.7M36.1 34.4h.7M26.2 35.6h.7M43.1 36.3h.7M46.9 35.1h.7M24.7 34.9h.7M28.3 35.9h.7M48.6 35.7h.7M28.5 35.3h.7M41.4 37.4h.7M41.9 36.0h.7M25.9 36.4h.7M45.0 34.7h.7M44.4 34.8h.7M46.5 34.4h.7M22.8 34.4h.7M25.7 34.9h.7M34.6 35.5h.7M40.1 33.9h.7M37.3 33.8h.7M39.8 34.2h.7M38.4 34.4h.7M48.3 36.3h.7M44.1 36.1h.7M24.3 35.3h.7M46.3 35.9h.7M44.3 35.8h.7M36.2 35.9h.7M26.7 34.7h.7M49.4 34.6h.7M34.9 34.3h.7M28.7 35.7h.7M27.6 35.1h.7M48.2 36.1h.7M28.4 35.7h.7M30.4 34.6h.7M46.9 35.0h.7M46.6 34.8h.7M45.7 36.6h.7M28.5 35.1h.7M41.2 35.5h.7M40.6 35.3h.7M24.1 35.8h.7M22.8 34.8h.7M35.9 35.8h.7M31.5 34.1h.7M37.0 34.7h.7M33.2 36.2h.7M23.2 36.2h.7M33.6 34.7h.7M33.3 36.4h.7M40.6 34.7h.7M39.2 34.5h.7M35.5 35.0h.7M46.3 35.0h.7M26.1 35.1h.7M42.1 35.3h.7M41.2 35.3h.7M37.2 33.6h.7M43.7 35.4h.7M32.4 36.4h.7M39.1 35.7h.7M48.4 35.0h.7M37.1 35.9h.7M38.5 35.9h.7M48.1 35.7h.7M41.9 34.2h.7M24.4 35.7h.7M36.4 35.0h.7M43.9 35.0h.7M39.4 34.6h.7M38.6 35.2h.7M34.3 34.9h.7M32.8 35.1h.7M42.0 34.8h.7M36.7 35.6h.7M34.1 35.3h.7M46.9 36.8h.7M37.7 35.8h.7M33.9 34.3h.7M48.7 35.6h.7M10.0 57.5h.7M10.1 42.4h.7M10.3 51.9h.7M10.2 54.2h.7M9.9 41.7h.7M10.0 42.4h.7M10.2 81.6h.7M9.9 60.3h.7M10.0 38.3h.7M10.1 67.8h.7M10.0 56.6h.7M10.1 57.4h.7M10.0 48.8h.7M10.2 72.5h.7M10.1 40.4h.7M9.9 54.5h.7M9.9 49.3h.7M10.2 41.5h.7M10.0 54.9h.7M10.1 79.2h.7M10.2 66.1h.7M10.1 55.2h.7M9.9 67.5h.7M10.0 38.1h.7M10.1 61.4h.7M9.8 55.4h.7M9.9 71.8h.7M10.3 80.0h.7M10.0 55.4h.7M10.0 38.5h.7M9.9 72.0h.7M10.0 56.1h.7M10.2 45.3h.7M9.9 54.2h.7M9.9 78.9h.7M10.3 61.8h.7M10.0 43.9h.7M10.3 50.7h.7M10.1 63.5h.7M9.8 60.7h.7M9.9 59.1h.7M10.3 70.4h.7M10.2 71.0h.7M10.0 68.7h.7M10.0 73.7h.7M10.2 56.1h.7M9.9 76.7h.7M10.0 52.7h.7M9.9 79.5h.7M10.2 41.6h.7M14.8 38.9h.7M27.0 63.7h.7M23.7 41.4h.7M25.7 35.9h.7M25.2 47.4h.7M36.1 42.5h.7M21.3 62.2h.7M10.7 58.4h.7M26.4 47.8h.7M19.3 56.2h.7M35.1 59.0h.7M28.1 35.3h.7M22.7 33.8h.7M26.3 53.6h.7M18.8 59.9h.7M23.7 55.3h.7M25.2 59.5h.7M34.5 50.6h.7M17.2 30.0h.7M34.4 39.2h.7M28.8 49.5h.7M16.6 55.5h.7M15.0 57.2h.7M12.1 40.3h.7M34.7 49.8h.7M19.0 28.9h.7M23.0 63.1h.7M31.3 33.7h.7M26.1 56.8h.7M29.5 45.5h.7M30.7 38.5h.7M14.9 51.6h.7M25.3 53.9h.7M33.4 54.9h.7M22.5 36.2h.7M37.8 40.6h.7M36.6 40.2h.7M30.4 40.7h.7M29.4 51.5h.7M29.7 29.0h.7M26.4 60.9h.7M25.0 41.4h.7M13.2 27.5h.7M10.6 33.9h.7M13.5 40.9h.7" stroke="#000" stroke-width="0.7" opacity="0.22" fill="none"/>
<rect x="9.5" y="24.4" width="57.80" height="57.60" fill="none" stroke="#444" stroke-width="0.55"/>
<line x1="30.40" y1="24.40" x2="30.40" y2="82.00" stroke="#555" stroke-width="0.5"/>
<line x1="9.50" y1="63.70" x2="67.30" y2="63.70" stroke="#555" stroke-width="0.5"/>
<text x="38.20" y="15.60" font-size="5.9" text-anchor="middle" font-weight="normal">No treatment</text>
<text x="33.90" y="23.40" font-size="2.6" text-anchor="middle" font-weight="normal" fill="#111">Data.014</text>
<text x="18.20" y="47.50" font-size="4.0" text-anchor="middle" font-weight="bold">23.1%</text>
<text x="54.40" y="47.50" font-size="4.0" text-anchor="middle" font-weight="bold">1.85%</text>
<text x="54.40" y="71.60" font-size="4.0" text-anchor="middle" font-weight="bold">2.63%</text>
<text x="17.00" y="70.00" font-size="4.0" text-anchor="middle" font-weight="bold">73.42%</text>
<text x="9.80" y="86.00" font-size="2.9" text-anchor="middle" font-weight="normal" fill="#222">10<tspan dy="-1.2" font-size="2">0</tspan></text>
<line x1="9.50" y1="82.00" x2="9.50" y2="83.00" stroke="#333" stroke-width="0.4"/>
<text x="24.25" y="86.00" font-size="2.9" text-anchor="middle" font-weight="normal" fill="#222">10<tspan dy="-1.2" font-size="2">1</tspan></text>
<line x1="23.95" y1="82.00" x2="23.95" y2="83.00" stroke="#333" stroke-width="0.4"/>
<text x="38.70" y="86.00" font-size="2.9" text-anchor="middle" font-weight="normal" fill="#222">10<tspan dy="-1.2" font-size="2">2</tspan></text>
<line x1="38.40" y1="82.00" x2="38.40" y2="83.00" stroke="#333" stroke-width="0.4"/>
<text x="53.15" y="86.00" font-size="2.9" text-anchor="middle" font-weight="normal" fill="#222">10<tspan dy="-1.2" font-size="2">3</tspan></text>
<line x1="52.85" y1="82.00" x2="52.85" y2="83.00" stroke="#333" stroke-width="0.4"/>
<text x="67.60" y="86.00" font-size="2.9" text-anchor="middle" font-weight="normal" fill="#222">10<tspan dy="-1.2" font-size="2">4</tspan></text>
<line x1="67.30" y1="82.00" x2="67.30" y2="83.00" stroke="#333" stroke-width="0.4"/>
<text x="8.30" y="83.40" font-size="2.9" text-anchor="end" font-weight="normal" fill="#222">10<tspan dy="-1.2" font-size="2">0</tspan></text>
<line x1="8.50" y1="82.00" x2="9.50" y2="82.00" stroke="#333" stroke-width="0.4"/>
<text x="8.30" y="69.00" font-size="2.9" text-anchor="end" font-weight="normal" fill="#222">10<tspan dy="-1.2" font-size="2">1</tspan></text>
<line x1="8.50" y1="67.60" x2="9.50" y2="67.60" stroke="#333" stroke-width="0.4"/>
<text x="8.30" y="54.60" font-size="2.9" text-anchor="end" font-weight="normal" fill="#222">10<tspan dy="-1.2" font-size="2">2</tspan></text>
<line x1="8.50" y1="53.20" x2="9.50" y2="53.20" stroke="#333" stroke-width="0.4"/>
<text x="8.30" y="40.20" font-size="2.9" text-anchor="end" font-weight="normal" fill="#222">10<tspan dy="-1.2" font-size="2">3</tspan></text>
<line x1="8.50" y1="38.80" x2="9.50" y2="38.80" stroke="#333" stroke-width="0.4"/>
<text x="8.30" y="25.80" font-size="2.9" text-anchor="end" font-weight="normal" fill="#222">10<tspan dy="-1.2" font-size="2">4</tspan></text>
<line x1="8.50" y1="24.40" x2="9.50" y2="24.40" stroke="#333" stroke-width="0.4"/>
<text x="37.40" y="89.40" font-size="2.6" text-anchor="middle" font-weight="normal" fill="#222">CD25 PE-CY7</text>
<text transform="translate(2.80,55.20) rotate(-90)" font-size="2.6" text-anchor="middle" font-weight="normal" fill="#222">CD4 PE</text>
<path d="M97.3 73.6h.7M96.1 74.0h.7M100.2 67.4h.7M96.1 82.0h.7M99.7 76.0h.7M93.3 74.9h.7M103.8 79.5h.7M100.5 72.4h.7M92.7 67.1h.7M106.7 71.0h.7M94.7 67.8h.7M98.0 69.6h.7M104.4 76.0h.7M93.7 73.9h.7M98.2 79.9h.7M104.2 79.0h.7M97.6 79.4h.7M101.5 71.6h.7M96.2 77.6h.7M98.1 67.3h.7M97.5 71.4h.7M98.5 80.6h.7M105.2 72.1h.7M101.6 77.9h.7M98.7 78.0h.7M91.2 71.8h.7M99.5 78.3h.7M102.0 77.1h.7M98.5 76.7h.7M103.6 74.4h.7M99.6 80.5h.7M99.1 73.1h.7M97.9 76.3h.7M96.1 79.2h.7M98.4 82.0h.7M98.8 80.2h.7M100.4 79.8h.7M95.8 73.0h.7M98.3 75.2h.7M95.0 81.9h.7M98.4 77.5h.7M96.5 77.4h.7M97.3 72.4h.7M95.3 75.6h.7M99.8 73.9h.7M98.0 67.6h.7M102.1 71.0h.7M97.2 77.1h.7M99.8 69.2h.7M99.6 75.4h.7M92.7 79.0h.7M101.5 69.5h.7M91.0 79.6h.7M101.5 66.4h.7M100.6 76.7h.7M105.2 66.6h.7M102.6 80.9h.7M99.4 72.3h.7M104.0 75.0h.7M90.4 70.9h.7M97.0 76.3h.7M100.5 75.7h.7M97.6 67.1h.7M99.3 79.6h.7M93.5 71.4h.7M94.6 70.7h.7M94.1 80.8h.7M96.3 74.3h.7M93.5 78.0h.7M99.2 75.3h.7M101.6 70.4h.7M95.9 69.0h.7M93.2 80.5h.7M99.4 67.0h.7M97.9 78.4h.7M94.4 68.0h.7M99.2 69.7h.7M94.9 72.8h.7M93.7 69.4h.7M96.1 70.2h.7M97.8 76.1h.7M103.7 77.3h.7M103.0 78.3h.7M96.7 76.3h.7M94.0 67.7h.7M100.5 81.3h.7M100.7 77.4h.7M103.7 70.2h.7M92.7 78.7h.7M97.1 77.1h.7M95.8 67.2h.7M99.8 81.0h.7M101.4 70.8h.7M96.2 69.5h.7M98.1 78.8h.7M100.6 67.8h.7M101.2 80.8h.7M98.7 79.3h.7M102.4 79.3h.7M96.7 81.7h.7M101.0 70.5h.7M95.6 73.5h.7M103.9 66.5h.7M99.6 73.7h.7M88.8 69.4h.7M96.3 76.8h.7M100.4 66.5h.7M98.1 68.3h.7M97.8 75.7h.7M101.4 81.8h.7M93.5 68.7h.7M98.0 75.5h.7M100.0 79.8h.7M99.9 79.8h.7M99.6 69.8h.7M100.2 79.9h.7M97.6 76.6h.7M97.2 66.6h.7M97.2 72.7h.7M93.5 74.5h.7M100.3 72.9h.7M98.9 69.5h.7M101.0 81.2h.7M99.3 74.6h.7M96.1 78.7h.7M93.8 74.2h.7M97.7 79.8h.7M95.1 77.9h.7M100.0 79.2h.7M96.5 75.9h.7M99.1 78.4h.7M93.2 79.7h.7M96.0 78.6h.7M100.4 78.4h.7M100.1 73.6h.7M100.2 81.7h.7M96.1 68.0h.7M96.0 67.8h.7M107.5 71.9h.7M97.5 79.5h.7M101.9 77.1h.7M102.5 67.0h.7M95.3 79.8h.7M105.9 72.4h.7M103.3 71.8h.7M97.1 75.2h.7M98.6 70.5h.7M97.1 79.7h.7M93.2 75.7h.7M100.7 74.7h.7M101.5 76.4h.7M103.6 77.7h.7M94.6 68.4h.7M93.9 67.0h.7M99.7 74.7h.7M97.7 76.4h.7M99.3 81.9h.7M97.4 68.2h.7M101.6 68.1h.7M96.5 73.7h.7M101.0 75.4h.7M98.1 75.1h.7M101.4 76.0h.7M101.4 66.9h.7M98.4 70.2h.7M101.2 81.0h.7M103.7 74.2h.7M98.0 76.3h.7M98.2 66.9h.7M93.7 74.4h.7M100.5 73.7h.7M98.0 72.0h.7M95.6 72.8h.7M98.8 70.0h.7M102.7 76.9h.7M96.2 77.0h.7M94.2 76.1h.7M98.1 73.7h.7M100.0 67.9h.7M99.3 82.1h.7M99.1 71.7h.7M102.3 68.8h.7M96.5 73.5h.7M93.6 76.0h.7M96.4 75.3h.7M99.1 66.8h.7M98.3 73.9h.7M96.3 69.0h.7M96.7 76.9h.7M98.6 77.6h.7M100.4 71.9h.7M97.2 75.8h.7M103.1 67.2h.7M91.9 81.7h.7M97.4 70.0h.7M98.9 70.2h.7M100.0 81.0h.7M96.5 82.0h.7M99.3 70.4h.7M103.2 82.1h.7M98.5 73.4h.7M104.3 80.1h.7M104.0 75.7h.7M98.1 81.7h.7M101.2 74.8h.7M102.9 70.5h.7M96.8 78.0h.7M102.2 69.5h.7M103.3 77.9h.7M103.9 77.4h.7M100.2 70.8h.7M98.2 68.2h.7M103.4 74.8h.7M96.1 76.1h.7M98.7 81.2h.7M101.7 79.2h.7M99.7 81.2h.7M100.5 76.6h.7M94.0 69.5h.7M96.5 80.6h.7M100.8 79.1h.7M99.2 69.9h.7M103.0 76.7h.7M102.1 66.7h.7M93.7 70.0h.7M94.9 74.1h.7M96.7 81.6h.7M105.4 76.0h.7M95.5 69.4h.7M93.8 80.6h.7M99.5 69.9h.7M97.7 70.4h.7M103.0 69.7h.7M96.9 79.2h.7M98.7 73.3h.7M99.6 68.1h.7M99.2 78.2h.7M96.5 67.2h.7M96.5 81.9h.7M99.2 66.9h.7M95.5 81.9h.7M92.3 76.7h.7M104.3 67.0h.7M99.2 70.9h.7M105.9 73.5h.7M95.9 81.3h.7M104.2 68.5h.7M102.0 76.8h.7M104.5 71.6h.7M93.7 82.0h.7M101.4 72.3h.7M98.8 67.2h.7M98.7 72.9h.7M96.1 79.9h.7M92.0 70.4h.7M102.0 80.2h.7M101.3 78.8h.7M100.7 72.8h.7M99.8 78.4h.7M96.2 67.1h.7M96.7 66.5h.7M97.8 74.8h.7M97.5 79.5h.7M101.4 73.6h.7M101.7 80.6h.7M95.1 76.5h.7M102.4 78.0h.7M101.8 75.9h.7M100.6 82.0h.7M105.3 81.2h.7M96.0 71.2h.7M105.4 69.6h.7M94.5 71.7h.7M98.1 70.7h.7M98.6 72.3h.7M92.9 75.9h.7M105.2 78.1h.7M97.5 68.4h.7M99.1 80.4h.7M105.4 79.0h.7M89.8 77.4h.7M99.9 76.3h.7M105.6 72.7h.7M103.3 76.9h.7M94.2 69.0h.7M96.4 77.0h.7M94.4 77.2h.7M98.1 80.8h.7M93.5 81.8h.7M91.8 80.2h.7M97.9 76.5h.7M100.0 69.2h.7M98.7 79.9h.7M99.6 75.0h.7M102.3 74.9h.7M101.9 69.6h.7M101.0 80.4h.7M101.5 81.0h.7M95.0 73.2h.7M95.6 66.9h.7M97.8 79.3h.7M104.8 79.8h.7M100.9 80.1h.7M94.7 73.8h.7M96.9 79.3h.7M102.7 69.9h.7M93.5 78.1h.7M94.0 76.9h.7M94.1 67.2h.7M100.8 72.9h.7M99.0 67.4h.7M101.4 67.9h.7M96.2 69.7h.7M99.1 74.3h.7M96.0 73.9h.7M100.2 75.0h.7M94.0 72.3h.7M102.5 76.8h.7M93.9 68.5h.7M97.7 69.6h.7M95.3 70.0h.7M98.1 81.3h.7M98.4 81.1h.7M102.3 80.8h.7M100.4 69.8h.7M97.0 68.0h.7M98.8 66.7h.7M98.5 78.6h.7M101.4 67.9h.7M99.1 67.5h.7M101.1 75.4h.7M95.6 69.1h.7M103.8 78.5h.7M93.8 70.6h.7M99.4 67.5h.7M102.4 74.9h.7M99.4 68.7h.7M95.9 80.9h.7M97.9 72.3h.7M104.2 74.0h.7M96.0 78.4h.7M93.3 79.5h.7M98.9 74.5h.7M99.3 77.1h.7M99.0 78.2h.7M95.3 70.0h.7M96.8 70.4h.7M100.9 76.1h.7M103.6 81.6h.7M98.6 72.0h.7M100.3 77.3h.7M96.9 73.1h.7M92.5 80.8h.7M103.0 77.7h.7M101.2 75.3h.7M104.1 69.5h.7M97.9 79.4h.7M97.0 78.4h.7M99.5 75.4h.7M107.7 78.1h.7M98.7 80.7h.7M96.8 82.0h.7M94.4 75.5h.7M99.2 81.5h.7M93.7 71.2h.7M90.4 69.5h.7M93.6 68.0h.7M99.3 81.9h.7M100.4 70.7h.7M101.8 76.8h.7M99.1 80.8h.7M99.5 79.4h.7M98.1 79.4h.7M101.4 72.2h.7M98.6 74.8h.7M94.7 79.4h.7M94.0 70.9h.7M99.4 77.3h.7M99.2 72.9h.7M101.0 70.4h.7M102.1 76.4h.7M103.3 69.4h.7M99.4 69.9h.7M99.1 81.1h.7M99.2 67.9h.7M96.4 73.2h.7M97.7 79.0h.7M97.1 81.7h.7M99.2 68.7h.7M98.7 80.5h.7M97.9 75.5h.7M102.1 76.1h.7M100.7 81.6h.7M96.6 70.9h.7M96.2 80.7h.7M96.1 80.6h.7M99.3 81.0h.7M100.1 67.2h.7M95.4 75.5h.7M100.1 69.5h.7M100.9 67.6h.7M103.5 79.1h.7M93.6 82.0h.7M102.6 75.6h.7M99.0 69.8h.7M99.4 70.0h.7M98.7 68.4h.7M103.5 75.0h.7M93.2 68.9h.7M98.7 72.4h.7M98.7 76.9h.7M99.9 75.2h.7M99.2 72.1h.7M94.9 67.4h.7M100.9 78.2h.7M94.4 78.5h.7M97.5 66.4h.7M97.8 74.5h.7M97.5 76.9h.7M96.0 81.7h.7M104.1 75.9h.7M98.6 74.7h.7M96.4 79.0h.7M91.8 67.0h.7M102.4 68.3h.7M95.6 71.5h.7M104.4 66.9h.7M97.0 79.9h.7M94.4 72.1h.7M100.0 67.1h.7M103.1 72.7h.7M99.0 71.2h.7M101.9 67.3h.7M96.6 71.5h.7M103.9 70.7h.7M92.9 73.1h.7M102.3 71.2h.7M93.0 74.0h.7M98.4 76.5h.7M98.5 74.8h.7M100.8 76.2h.7M104.4 80.2h.7M96.1 69.8h.7M93.2 74.6h.7M103.2 77.1h.7M99.6 76.8h.7M94.2 80.9h.7M102.7 80.6h.7M96.1 75.6h.7M97.1 79.1h.7M96.2 71.5h.7M97.5 81.8h.7M99.8 79.8h.7M92.0 66.7h.7M95.6 69.1h.7M99.9 80.8h.7M95.2 78.8h.7M95.0 73.6h.7M98.2 74.4h.7M99.3 71.6h.7M102.3 73.3h.7M96.3 70.5h.7M99.8 75.5h.7M96.9 70.1h.7M100.3 76.8h.7M100.9 80.7h.7M101.2 67.1h.7M96.6 76.5h.7M99.0 82.0h.7M97.5 66.5h.7M96.6 80.7h.7M104.4 69.5h.7M99.0 69.0h.7M96.5 78.0h.7M97.9 79.3h.7M103.3 70.4h.7M108.5 66.5h.7M103.7 73.1h.7M96.9 76.8h.7M90.5 79.1h.7M101.2 79.3h.7M99.7 76.9h.7M95.8 69.3h.7M102.3 74.9h.7M92.7 70.5h.7M104.9 75.6h.7M97.4 67.4h.7M105.9 78.6h.7M99.6 69.9h.7M101.2 67.8h.7M102.3 72.0h.7M97.3 69.5h.7M102.9 80.1h.7M104.2 74.4h.7M100.6 73.2h.7M94.1 70.1h.7M95.4 73.1h.7M91.2 77.6h.7M96.0 79.9h.7M95.9 80.2h.7M103.7 71.1h.7M95.3 79.3h.7M91.5 73.7h.7M97.3 69.5h.7M103.4 73.2h.7M98.6 69.0h.7M94.7 69.5h.7M91.0 73.0h.7M99.7 79.5h.7M99.6 76.9h.7M100.8 68.5h.7M98.8 69.2h.7M96.4 75.1h.7M96.1 67.0h.7M98.8 74.2h.7M101.0 79.3h.7M99.3 74.0h.7M96.1 71.8h.7M99.0 69.4h.7M100.6 79.2h.7M101.9 78.2h.7M94.8 78.3h.7M95.0 78.5h.7M96.5 74.7h.7M104.3 71.6h.7M96.3 81.2h.7M99.9 78.0h.7M99.7 71.3h.7M98.7 72.5h.7M100.2 70.4h.7M101.9 76.0h.7M94.3 81.7h.7M95.7 80.7h.7M92.7 75.9h.7M104.2 76.7h.7M103.6 75.6h.7M101.0 71.0h.7M102.0 69.5h.7M95.8 80.9h.7M103.1 70.2h.7M103.0 68.2h.7M95.0 81.1h.7M102.2 67.6h.7M93.5 81.1h.7M98.5 76.9h.7M94.4 81.5h.7M98.0 72.6h.7M97.9 79.9h.7M102.0 78.4h.7M96.7 81.1h.7M101.1 74.1h.7M95.5 72.1h.7M103.4 75.9h.7M91.7 80.3h.7M99.3 67.6h.7M99.2 76.5h.7M98.6 66.7h.7M99.1 69.8h.7M100.8 69.2h.7M101.4 81.6h.7M102.8 72.3h.7M100.2 78.6h.7M100.8 73.8h.7M103.2 76.8h.7M99.6 70.0h.7M97.6 67.8h.7M99.8 66.6h.7M94.9 81.6h.7M98.8 81.4h.7M101.9 69.8h.7M99.7 69.9h.7M92.1 75.6h.7M99.1 74.4h.7M95.5 78.7h.7M97.1 74.5h.7M95.1 68.8h.7M99.4 81.6h.7M97.9 76.3h.7M99.0 70.4h.7M98.3 76.4h.7M97.6 75.5h.7M102.3 81.5h.7M100.2 76.3h.7M101.7 78.6h.7M100.0 76.5h.7M98.4 74.8h.7M104.2 76.4h.7M97.2 81.1h.7M99.4 77.4h.7M101.1 78.4h.7M99.5 76.7h.7M101.3 74.8h.7M98.8 80.4h.7M89.8 70.1h.7M99.7 73.3h.7M103.1 73.8h.7M95.8 77.5h.7M101.5 66.7h.7M96.0 79.9h.7M99.5 68.6h.7M99.2 78.8h.7M102.4 67.0h.7M94.1 76.0h.7M96.7 74.7h.7M98.5 80.3h.7M99.2 81.3h.7M95.7 75.3h.7M94.5 66.9h.7M104.7 67.3h.7M99.0 73.0h.7M92.0 81.5h.7M103.9 80.6h.7M100.2 73.5h.7M95.9 77.0h.7M101.4 81.8h.7M95.1 72.8h.7M98.7 74.9h.7M104.2 76.2h.7M105.8 67.9h.7M97.0 71.7h.7M94.8 70.3h.7M100.0 73.6h.7M100.9 70.8h.7M98.6 69.9h.7M95.3 78.9h.7M98.8 80.8h.7M100.1 78.1h.7M97.5 75.8h.7M100.9 75.2h.7M95.9 71.9h.7M103.8 72.1h.7M101.9 80.3h.7M102.1 75.0h.7M98.3 70.7h.7M97.3 72.0h.7M105.1 71.7h.7M97.6 73.3h.7M94.3 76.2h.7M94.9 74.3h.7M99.8 73.5h.7M98.7 70.4h.7M98.5 73.2h.7M104.3 69.8h.7M101.5 75.6h.7M93.1 68.6h.7M99.0 80.1h.7M99.3 69.4h.7M94.2 78.4h.7M99.7 77.2h.7M97.3 81.2h.7M94.5 71.1h.7M102.3 73.9h.7M94.4 73.5h.7M96.0 66.8h.7M103.0 81.7h.7M102.9 81.2h.7M102.4 74.7h.7M102.0 78.9h.7M95.1 71.0h.7M99.4 77.0h.7M94.2 78.1h.7M96.7 74.8h.7M104.8 68.0h.7M96.2 69.9h.7M99.0 73.2h.7M95.5 79.1h.7M98.0 78.8h.7M98.9 80.1h.7M104.6 71.3h.7M97.9 67.8h.7M101.4 70.0h.7M100.1 71.4h.7M97.9 71.5h.7M100.2 80.0h.7M99.6 74.9h.7M100.1 75.4h.7M98.2 70.3h.7M94.8 75.9h.7M100.4 66.7h.7M94.7 69.4h.7M96.1 77.4h.7M100.1 80.8h.7M95.2 71.7h.7M92.3 34.5h.7M89.4 33.2h.7M91.7 35.2h.7M93.3 35.4h.7M92.3 34.8h.7M89.9 35.5h.7M91.0 35.7h.7M89.1 34.3h.7M88.9 33.7h.7M89.4 35.0h.7M94.1 36.2h.7M89.3 34.3h.7M88.8 35.4h.7M92.0 34.6h.7M90.8 34.9h.7M89.9 35.0h.7M90.5 35.3h.7M89.4 33.9h.7M89.7 34.9h.7M90.2 35.3h.7M89.6 34.8h.7M91.3 34.0h.7M92.3 34.3h.7M89.9 33.5h.7M89.6 34.9h.7M89.3 35.0h.7M89.4 35.9h.7M89.5 35.1h.7M93.9 33.8h.7M92.3 34.8h.7M92.4 33.6h.7M90.0 34.5h.7M89.2 33.9h.7M90.6 34.1h.7M90.5 35.0h.7M93.6 35.3h.7M89.6 34.0h.7M94.0 34.7h.7M88.6 35.8h.7M89.2 35.7h.7M88.6 35.2h.7M89.2 35.2h.7M90.9 35.0h.7M93.9 35.0h.7M91.1 34.3h.7M91.9 34.5h.7M88.7 33.7h.7M91.8 35.0h.7M93.5 34.1h.7M90.2 34.7h.7M92.1 33.3h.7M89.1 35.0h.7M89.4 34.0h.7M92.9 35.9h.7M94.1 34.3h.7M90.5 34.9h.7M93.7 34.8h.7M90.9 35.1h.7M89.3 34.6h.7M93.6 35.1h.7M91.6 35.6h.7M89.0 34.2h.7M92.2 35.3h.7M88.8 34.6h.7M92.3 34.3h.7M90.1 34.4h.7M91.9 34.2h.7M90.9 33.5h.7M88.8 35.0h.7M93.0 35.0h.7M93.4 34.5h.7M92.5 35.5h.7M91.4 34.3h.7M91.0 34.9h.7M91.2 33.5h.7M92.6 35.2h.7M89.7 34.6h.7M91.5 34.3h.7M90.0 34.8h.7M91.1 34.2h.7M90.1 34.8h.7M93.1 34.3h.7M90.6 35.8h.7M90.7 34.4h.7M89.3 34.3h.7M90.8 34.8h.7M90.9 34.1h.7M94.1 35.2h.7M90.9 35.5h.7M88.9 34.1h.7M92.2 34.7h.7M89.0 34.8h.7M92.5 34.7h.7M89.4 35.0h.7M94.2 35.2h.7M91.9 35.0h.7M89.8 34.2h.7M89.1 34.5h.7M92.8 35.2h.7M92.6 34.0h.7M91.7 35.0h.7M89.2 34.4h.7M93.9 34.5h.7M89.9 34.9h.7M90.8 33.7h.7M90.6 35.0h.7M91.1 34.6h.7M89.6 34.5h.7M90.7 33.6h.7M90.3 33.8h.7M90.5 34.5h.7M90.2 34.1h.7M89.0 35.5h.7M89.2 34.7h.7M90.4 34.8h.7M92.9 33.6h.7M93.9 36.2h.7M90.5 33.9h.7M90.6 34.9h.7M92.1 33.9h.7M91.3 34.9h.7M88.7 34.3h.7M93.2 35.0h.7M92.1 35.2h.7M94.0 35.3h.7M94.2 34.4h.7M92.4 34.7h.7M89.1 35.2h.7M91.3 34.1h.7M91.2 34.8h.7M91.5 34.8h.7M90.5 33.5h.7M90.2 33.5h.7M93.7 34.3h.7M89.9 34.8h.7M90.9 34.1h.7M90.6 34.3h.7M89.1 34.7h.7M90.3 34.7h.7M90.3 34.2h.7M90.1 34.7h.7M88.6 34.5h.7M92.1 34.6h.7M90.6 34.3h.7M89.7 33.7h.7M89.8 34.8h.7M90.5 34.7h.7M92.4 35.0h.7M91.0 34.4h.7M94.1 34.8h.7M94.4 34.9h.7M93.4 33.9h.7M88.9 34.5h.7M91.1 34.2h.7M90.1 35.1h.7M92.2 34.5h.7M89.3 32.7h.7M93.0 35.0h.7M90.5 34.7h.7M89.9 36.3h.7M93.5 34.3h.7M92.6 35.2h.7M90.8 34.6h.7M90.5 35.2h.7M88.7 34.2h.7M91.4 34.2h.7M90.0 34.8h.7M90.4 35.0h.7M94.1 34.1h.7M88.7 34.3h.7M90.2 34.6h.7M90.8 35.3h.7M91.1 34.4h.7M91.4 34.4h.7M93.7 34.2h.7M89.9 34.9h.7M92.8 35.0h.7M89.0 32.8h.7M89.0 26.9h.7M88.9 31.6h.7M89.1 33.3h.7M88.7 28.7h.7M88.7 28.0h.7M88.8 33.7h.7M88.8 36.2h.7M88.9 35.2h.7M89.0 36.5h.7M88.8 29.5h.7M89.1 33.3h.7M88.9 35.5h.7M88.7 28.1h.7M88.9 35.2h.7M88.8 25.6h.7M89.0 36.4h.7M89.0 25.8h.7M88.8 37.6h.7M88.8 33.9h.7M88.7 33.3h.7M88.9 26.2h.7M89.2 28.1h.7M88.9 28.8h.7M89.0 28.2h.7M88.7 35.9h.7M89.2 28.1h.7M89.1 26.4h.7M89.2 27.0h.7M88.7 34.3h.7M88.9 31.1h.7M89.1 37.2h.7M89.1 28.1h.7M89.1 37.2h.7M89.1 33.1h.7M89.2 30.7h.7M89.2 34.9h.7M89.1 31.1h.7M88.8 35.6h.7M88.8 27.1h.7M88.7 34.4h.7M88.6 26.6h.7M89.0 31.0h.7M88.6 26.9h.7M88.9 35.5h.7M88.6 36.7h.7M88.6 37.1h.7M88.8 30.7h.7M88.9 30.4h.7M88.8 31.2h.7" stroke="#000" stroke-width="0.7" opacity="0.6" fill="none"/>
<path d="M96.4 69.5h.7M95.5 71.5h.7M97.9 75.2h.7M103.7 71.3h.7M94.8 70.8h.7M93.7 67.9h.7M96.3 78.2h.7M99.0 80.5h.7M97.9 78.4h.7M103.3 81.6h.7M96.8 71.5h.7M100.9 81.8h.7M99.9 75.0h.7M97.0 76.2h.7M98.3 70.9h.7M103.9 76.2h.7M102.1 80.7h.7M94.6 70.1h.7M98.7 81.2h.7M99.4 68.2h.7M96.5 81.4h.7M103.0 78.7h.7M98.1 78.5h.7M95.6 76.0h.7M99.8 67.2h.7M103.9 70.5h.7M100.4 75.8h.7M98.5 72.3h.7M102.5 73.9h.7M96.6 75.1h.7M98.4 76.0h.7M106.2 76.9h.7M97.9 73.8h.7M102.6 71.8h.7M94.9 71.1h.7M91.9 77.0h.7M98.0 71.7h.7M104.8 81.3h.7M98.6 80.1h.7M99.8 79.9h.7M99.0 75.6h.7M98.9 72.7h.7M103.9 80.4h.7M95.4 76.3h.7M96.4 74.9h.7M101.2 78.9h.7M99.3 68.4h.7M100.5 77.0h.7M94.1 77.9h.7M102.5 72.1h.7M96.9 71.2h.7M104.4 71.0h.7M91.4 80.2h.7M96.8 68.0h.7M96.3 77.4h.7M95.7 75.0h.7M93.9 78.3h.7M99.2 67.6h.7M100.0 78.5h.7M97.5 80.7h.7M100.5 81.4h.7M101.9 67.9h.7M93.7 68.2h.7M93.9 75.3h.7M102.3 70.2h.7M95.1 78.8h.7M103.1 71.2h.7M97.7 70.6h.7M101.2 78.9h.7M93.9 76.1h.7M101.6 81.0h.7M90.8 80.0h.7M97.5 72.1h.7M94.5 72.7h.7M97.5 79.9h.7M97.0 79.2h.7M96.7 76.7h.7M103.1 75.5h.7M94.6 81.7h.7M99.3 74.8h.7M101.2 72.9h.7M102.4 81.5h.7M96.8 75.8h.7M103.0 81.2h.7M96.5 77.6h.7M104.4 66.4h.7M96.7 67.0h.7M96.1 79.3h.7M97.8 77.0h.7M95.0 76.4h.7M96.3 79.7h.7M100.1 67.3h.7M98.1 78.5h.7M93.9 79.3h.7M96.5 77.6h.7M100.0 76.0h.7M98.9 75.3h.7M95.1 71.1h.7M98.3 76.1h.7M102.2 73.4h.7M99.7 80.7h.7M96.3 70.4h.7M101.9 73.6h.7M97.6 80.3h.7M96.8 68.3h.7M97.6 78.5h.7M105.6 79.4h.7M100.5 67.8h.7M103.9 73.4h.7M100.6 81.5h.7M99.5 77.1h.7M101.2 76.1h.7M99.4 73.1h.7M103.6 72.9h.7M105.4 81.3h.7M90.8 66.9h.7M95.1 69.0h.7M94.4 80.8h.7M100.4 69.8h.7M98.3 77.8h.7M100.4 74.3h.7M100.2 76.8h.7M96.4 67.2h.7M103.1 69.5h.7M101.0 73.3h.7M96.8 74.3h.7M97.4 80.8h.7M100.9 67.7h.7M99.7 69.9h.7M102.5 66.9h.7M98.4 75.3h.7M99.9 75.1h.7M96.5 74.3h.7M95.9 66.5h.7M97.9 70.3h.7M94.8 80.9h.7M102.3 78.6h.7M101.6 76.7h.7M102.1 66.9h.7M100.3 69.3h.7M99.2 67.7h.7M102.8 72.4h.7M98.9 79.8h.7M94.6 70.6h.7M98.7 75.8h.7M100.4 78.6h.7M99.2 67.6h.7M94.6 67.4h.7M96.0 70.6h.7M90.4 73.9h.7M91.7 76.6h.7M100.3 76.5h.7M95.1 72.5h.7M95.1 78.7h.7M106.5 71.0h.7M91.9 80.5h.7M102.8 78.9h.7M102.3 79.2h.7M99.1 69.8h.7M102.7 67.2h.7M99.6 74.9h.7M102.3 78.0h.7M97.8 67.2h.7M99.3 73.6h.7M97.8 75.9h.7M102.2 71.3h.7M93.3 78.8h.7M96.7 81.2h.7M95.6 77.1h.7M100.3 68.0h.7M100.1 82.1h.7M96.4 67.0h.7M99.4 79.3h.7M96.8 79.1h.7M101.2 74.2h.7M104.4 72.0h.7M97.2 67.1h.7M92.5 79.5h.7M95.9 72.2h.7M100.2 80.2h.7M99.2 77.9h.7M98.4 73.0h.7M98.4 70.5h.7M91.6 74.7h.7M103.1 71.4h.7M99.2 75.6h.7M91.7 73.2h.7M95.0 79.8h.7M95.7 79.4h.7M92.9 72.0h.7M94.9 71.0h.7M96.0 76.1h.7M101.5 80.7h.7M101.1 77.0h.7M95.8 79.9h.7M99.4 71.4h.7M95.6 82.0h.7M97.5 82.0h.7M96.2 70.2h.7M97.0 78.6h.7M100.0 80.4h.7M93.6 79.4h.7M95.8 72.0h.7M97.3 74.6h.7M102.3 79.1h.7M102.4 77.0h.7M98.5 70.6h.7M102.7 73.2h.7M97.7 70.8h.7M89.6 75.0h.7M95.8 74.8h.7M100.2 75.6h.7M93.1 78.6h.7M95.2 80.4h.7M91.5 80.5h.7M97.1 68.2h.7M101.7 68.6h.7M96.9 79.7h.7M94.9 69.3h.7M98.9 80.1h.7M97.5 70.3h.7M101.1 72.8h.7M98.4 71.4h.7M99.1 75.8h.7M100.2 77.6h.7M101.5 76.7h.7M98.4 70.8h.7M103.3 77.5h.7M97.5 66.8h.7M102.3 70.6h.7M106.5 80.2h.7M92.4 71.9h.7M96.2 66.7h.7M101.4 69.6h.7M96.1 82.1h.7M98.7 75.8h.7M98.0 76.5h.7M95.4 80.4h.7M100.9 75.0h.7M99.5 66.9h.7M100.3 78.9h.7M103.6 72.5h.7M96.5 79.0h.7M90.8 73.5h.7M100.2 68.8h.7M96.8 71.6h.7M96.9 70.8h.7M95.7 72.6h.7M101.9 78.0h.7M96.2 74.6h.7M97.7 81.9h.7M101.5 77.5h.7M99.0 67.1h.7M101.7 79.0h.7M105.9 79.8h.7M101.7 72.3h.7M99.7 74.8h.7M97.4 70.3h.7M101.9 82.0h.7M101.2 80.5h.7M98.5 70.5h.7M97.7 72.4h.7M98.2 73.4h.7M96.8 77.1h.7M98.3 71.4h.7M92.3 76.5h.7M100.4 67.8h.7M99.6 71.9h.7M91.8 68.5h.7M101.8 67.4h.7M101.7 81.4h.7M99.0 80.7h.7M99.6 78.2h.7M97.7 76.1h.7M96.6 76.2h.7M104.1 79.8h.7M97.1 75.1h.7M99.0 81.1h.7M100.2 78.0h.7M97.0 78.8h.7M99.4 77.9h.7M96.6 81.2h.7M95.6 77.1h.7M99.6 67.8h.7M99.6 69.9h.7M98.5 76.7h.7M101.8 81.2h.7M95.4 77.9h.7M99.4 74.4h.7M104.4 81.5h.7M101.6 75.8h.7M93.0 70.7h.7M99.7 68.9h.7M100.7 70.4h.7M99.0 77.2h.7M99.6 76.6h.7M101.1 81.0h.7M99.2 74.0h.7M100.5 73.9h.7M104.2 69.7h.7M102.4 74.7h.7M95.3 69.6h.7M104.7 81.4h.7M108.1 70.8h.7M98.1 68.4h.7M93.9 75.3h.7M98.5 80.1h.7M101.1 75.6h.7M92.3 74.7h.7M100.9 74.2h.7M96.3 79.0h.7M99.0 76.2h.7M100.4 67.1h.7M91.4 79.4h.7M100.1 77.3h.7M97.3 81.4h.7M95.1 75.0h.7M98.4 78.7h.7M98.8 75.3h.7M103.4 67.4h.7M103.7 68.2h.7M96.2 80.9h.7M103.6 79.1h.7M96.3 75.4h.7M95.4 79.2h.7M98.7 69.0h.7M102.8 77.5h.7M101.9 74.9h.7M98.2 78.4h.7M101.4 77.8h.7M100.0 69.7h.7M101.2 76.1h.7M103.4 66.9h.7M93.5 78.5h.7M103.1 69.0h.7M99.6 81.5h.7M97.9 70.1h.7M95.3 71.8h.7M100.4 70.7h.7M100.8 72.9h.7M98.5 79.8h.7M102.7 67.0h.7M97.3 67.4h.7M98.0 69.6h.7M100.2 79.8h.7M99.4 82.0h.7M98.7 66.6h.7M100.1 70.8h.7M97.7 70.6h.7M100.4 71.8h.7M97.3 73.8h.7M95.2 73.7h.7M102.8 75.6h.7M105.2 81.9h.7M101.0 82.0h.7M98.2 76.2h.7M100.5 81.3h.7M97.1 74.3h.7M98.3 69.2h.7M101.8 80.3h.7M103.6 78.1h.7M96.7 79.4h.7M97.4 78.8h.7M105.7 80.1h.7M100.8 70.6h.7M99.3 71.4h.7M105.4 78.9h.7M94.7 80.7h.7M102.3 66.7h.7M101.7 72.2h.7M100.8 68.5h.7M107.5 76.0h.7M107.1 77.2h.7M107.9 81.4h.7M108.8 73.1h.7M106.1 82.0h.7M109.2 81.1h.7M106.5 80.0h.7M106.6 79.7h.7M117.9 82.0h.7M113.0 79.2h.7M111.0 81.3h.7M115.5 80.0h.7M114.7 75.3h.7M107.5 71.3h.7M109.9 73.5h.7M106.6 72.9h.7M110.5 71.5h.7M118.3 81.3h.7M125.6 79.4h.7M111.0 81.1h.7M119.2 79.6h.7M110.6 80.5h.7M116.4 70.6h.7M110.7 80.1h.7M109.9 79.2h.7M113.6 76.3h.7M108.5 62.8h.7M109.4 80.9h.7M113.8 72.6h.7M106.1 77.1h.7M112.2 69.8h.7M113.3 80.6h.7M111.8 80.3h.7M115.4 78.2h.7M114.6 75.2h.7M88.9 77.2h.7M89.9 67.2h.7M89.1 75.4h.7M90.1 69.4h.7M89.9 72.4h.7M90.1 67.4h.7M90.2 69.1h.7M90.1 65.9h.7M89.6 75.8h.7M88.8 73.6h.7M90.1 76.3h.7M89.4 66.1h.7M89.9 69.7h.7M89.1 79.7h.7M89.2 69.6h.7M90.2 75.8h.7M89.6 75.0h.7M89.9 65.4h.7M88.8 68.0h.7M89.1 80.4h.7M111.8 81.2h.7M91.4 81.0h.7M112.6 81.1h.7M93.8 81.1h.7M104.3 81.1h.7M96.9 81.2h.7M99.8 81.0h.7M92.4 81.0h.7M112.2 81.3h.7M95.3 81.4h.7M96.9 81.1h.7M101.9 81.5h.7M100.5 81.4h.7M94.4 81.3h.7M106.3 81.2h.7M94.8 81.6h.7M93.7 81.1h.7M104.8 81.4h.7M96.6 81.1h.7M91.3 81.1h.7M101.8 81.4h.7M103.0 81.5h.7M100.7 81.3h.7M93.4 81.3h.7M111.6 80.9h.7M101.7 81.0h.7M106.8 81.2h.7M94.4 81.4h.7M99.0 81.5h.7M103.5 81.2h.7M105.7 81.6h.7M111.7 81.1h.7M102.7 81.4h.7M106.9 81.4h.7M112.4 81.4h.7M101.3 81.4h.7M113.3 81.4h.7M103.7 81.5h.7M111.7 80.9h.7M106.4 81.5h.7M95.8 81.5h.7M99.1 80.9h.7M90.6 81.5h.7M98.1 81.2h.7M94.2 81.2h.7M109.1 81.2h.7M98.8 81.0h.7M106.3 81.2h.7M110.3 81.0h.7M107.1 81.1h.7M93.4 81.0h.7M107.6 81.1h.7M103.8 81.2h.7M106.4 81.4h.7M100.5 80.9h.7M111.8 81.1h.7M89.0 81.2h.7M90.3 80.9h.7M105.3 81.0h.7M103.9 81.5h.7M102.3 81.0h.7M93.9 81.0h.7M92.0 81.4h.7M100.3 81.6h.7M98.2 81.2h.7M102.1 80.9h.7M108.7 81.4h.7M111.5 81.1h.7M109.0 81.5h.7M99.2 81.3h.7M101.5 80.9h.7M90.4 81.4h.7M91.7 81.0h.7M101.4 81.2h.7M103.4 81.4h.7M103.3 81.1h.7M109.5 81.4h.7M101.1 81.2h.7M90.7 81.0h.7M93.9 81.0h.7M95.2 81.0h.7M112.7 81.5h.7M95.3 81.0h.7M95.2 81.4h.7M98.7 81.0h.7M110.2 81.1h.7M93.4 81.2h.7M90.1 81.1h.7M107.3 81.4h.7M89.6 81.1h.7M108.7 80.9h.7M89.3 80.9h.7M107.7 81.4h.7M90.0 80.9h.7M89.9 81.3h.7M97.7 81.1h.7M92.5 81.2h.7M107.3 81.3h.7M90.5 81.1h.7M96.9 80.9h.7M96.4 81.5h.7M101.4 81.3h.7M90.6 81.1h.7M96.2 80.9h.7M92.2 81.5h.7M101.8 81.0h.7M112.5 81.0h.7M111.8 81.2h.7M107.9 81.3h.7M101.3 81.0h.7M89.8 81.0h.7M101.1 81.0h.7M100.7 81.6h.7M106.1 81.6h.7M104.1 80.9h.7M102.3 81.3h.7M107.2 81.4h.7M111.5 81.6h.7M111.6 81.6h.7M111.2 81.3h.7M95.1 34.8h.7M96.6 34.8h.7M95.4 35.0h.7M94.7 34.6h.7M95.9 35.3h.7M97.6 34.7h.7M97.2 34.2h.7M95.2 34.6h.7M94.5 34.2h.7M97.7 33.7h.7M94.7 34.2h.7M96.6 35.0h.7M95.6 34.4h.7M96.1 33.7h.7M96.8 34.4h.7M95.9 34.7h.7M97.3 34.1h.7M95.6 34.5h.7M95.2 34.5h.7M94.9 33.4h.7M97.2 34.8h.7M97.0 34.9h.7M95.4 35.4h.7M96.9 35.1h.7M95.0 34.0h.7M97.0 34.5h.7M95.3 34.0h.7M94.9 34.6h.7M95.1 34.1h.7M95.2 34.4h.7M96.0 34.3h.7M95.0 34.8h.7M97.4 35.8h.7M97.0 36.5h.7M96.7 34.5h.7M95.6 35.7h.7M94.8 35.5h.7M96.1 35.0h.7M99.2 36.7h.7M96.4 35.3h.7M95.7 36.9h.7M95.5 35.7h.7M94.7 35.0h.7M97.6 35.6h.7M98.4 36.0h.7M94.5 36.1h.7M99.7 35.5h.7M94.4 35.9h.7M95.4 36.4h.7M96.2 36.0h.7M99.5 36.5h.7M97.9 36.5h.7M99.0 33.6h.7M99.5 35.3h.7M98.5 35.8h.7M97.5 35.4h.7M98.5 34.9h.7M96.0 35.3h.7M98.1 36.2h.7M99.4 35.5h.7M98.0 35.6h.7M96.4 35.4h.7M97.0 35.8h.7M99.1 35.0h.7M98.8 37.4h.7M95.9 35.6h.7M94.6 34.2h.7M96.8 35.0h.7M97.7 35.3h.7M98.5 36.4h.7M98.2 35.1h.7M95.3 35.5h.7M96.6 35.1h.7M96.7 34.0h.7M98.3 34.9h.7M94.8 35.3h.7M99.4 35.5h.7M97.2 36.5h.7M99.3 35.8h.7M97.1 35.3h.7M94.3 34.5h.7M95.9 34.6h.7M98.3 34.2h.7M98.4 35.3h.7M97.1 34.8h.7M99.4 35.4h.7M99.7 36.4h.7" stroke="#000" stroke-width="0.7" opacity="0.4" fill="none"/>
<path d="M101.0 58.2h.7M102.9 63.2h.7M95.1 60.0h.7M99.6 62.2h.7M90.5 63.4h.7M100.5 64.0h.7M107.4 63.7h.7M100.1 64.0h.7M97.7 63.9h.7M99.1 63.9h.7M103.1 62.9h.7M92.0 61.6h.7M98.8 63.8h.7M99.8 63.9h.7M95.7 62.8h.7M99.1 63.3h.7M99.5 62.1h.7M92.7 59.8h.7M96.1 63.3h.7M101.0 62.4h.7M104.6 62.8h.7M93.4 61.4h.7M96.6 63.9h.7M106.0 64.0h.7M95.9 63.5h.7M94.7 61.7h.7M97.7 63.4h.7M92.4 58.9h.7M100.5 60.7h.7M100.4 60.9h.7M96.7 62.5h.7M101.3 63.0h.7M103.0 63.1h.7M104.3 62.1h.7M97.9 61.7h.7M106.8 60.5h.7M93.0 63.3h.7M97.0 60.5h.7M101.4 62.8h.7M100.6 61.6h.7M110.0 70.2h.7M114.4 63.8h.7M106.9 78.5h.7M124.6 76.6h.7M106.9 81.7h.7M108.5 75.3h.7M109.2 73.8h.7M111.1 70.6h.7M106.8 75.0h.7M108.2 67.1h.7M108.9 72.0h.7M114.1 81.7h.7M106.6 79.4h.7M107.8 75.5h.7M107.7 77.6h.7M113.6 70.8h.7M112.0 77.2h.7M106.4 81.0h.7M108.3 78.6h.7M111.4 65.7h.7M119.3 81.0h.7M109.5 67.7h.7M116.9 80.7h.7M111.7 74.9h.7M107.0 76.3h.7M108.3 65.3h.7M108.1 80.2h.7M110.7 81.8h.7M112.7 78.9h.7M117.4 70.5h.7M113.5 68.1h.7M116.5 79.5h.7M113.5 79.1h.7M106.3 81.7h.7M106.9 80.7h.7M119.8 70.5h.7M110.2 70.6h.7M111.3 81.9h.7M106.6 75.8h.7M106.9 74.7h.7M113.6 74.8h.7M107.4 75.8h.7M116.3 79.1h.7M107.3 81.5h.7M118.0 74.0h.7M108.6 79.2h.7M106.5 77.1h.7M107.2 79.8h.7M109.9 71.4h.7M114.0 80.5h.7M108.2 69.5h.7M111.8 76.5h.7M109.8 81.7h.7M89.7 67.4h.7M89.1 72.0h.7M89.1 67.9h.7M90.2 69.7h.7M89.7 79.6h.7M88.9 72.4h.7M89.0 78.9h.7M89.8 69.7h.7M89.4 72.0h.7M89.7 73.2h.7M89.3 76.2h.7M89.3 73.4h.7M89.4 80.5h.7M89.4 67.5h.7M89.1 71.3h.7M89.3 65.7h.7M90.2 71.9h.7M89.2 65.6h.7M88.9 79.0h.7M89.0 68.9h.7M89.0 70.2h.7M89.8 79.9h.7M89.3 75.4h.7M90.1 78.0h.7M89.8 77.8h.7M89.0 75.7h.7M88.9 65.5h.7M89.3 67.4h.7M90.1 75.7h.7M90.1 81.9h.7M90.2 75.6h.7M90.2 76.2h.7M90.0 65.7h.7M89.3 78.5h.7M89.0 67.4h.7M89.4 74.2h.7M90.3 75.5h.7M88.9 69.6h.7M97.9 34.4h.7M102.2 35.4h.7M99.8 35.0h.7M98.4 34.9h.7M99.7 35.5h.7M98.9 34.6h.7M100.0 34.9h.7M98.2 34.5h.7M102.6 34.6h.7M101.2 34.8h.7M102.4 34.8h.7M102.3 36.5h.7M101.9 36.2h.7M100.6 35.3h.7M101.0 36.8h.7M102.5 35.3h.7M103.8 35.4h.7M100.5 36.3h.7M100.2 34.3h.7M102.3 34.8h.7M102.8 34.8h.7M102.1 36.6h.7M100.5 36.3h.7M100.1 35.8h.7M103.7 35.9h.7M103.4 35.4h.7M103.8 35.2h.7M102.1 35.5h.7M100.5 35.2h.7M102.2 35.6h.7M101.4 36.2h.7M100.1 35.2h.7M100.8 37.5h.7M104.3 36.3h.7M101.2 35.1h.7M100.4 35.7h.7M102.9 35.3h.7M100.2 36.0h.7M102.8 36.3h.7M100.8 35.0h.7M102.0 34.2h.7M102.0 34.6h.7M103.7 35.2h.7M101.4 36.2h.7M103.2 36.2h.7M100.6 36.1h.7M102.7 34.3h.7M104.1 35.6h.7M100.6 35.9h.7M101.6 36.3h.7M102.8 35.1h.7M103.5 36.5h.7M100.7 35.0h.7M103.2 34.8h.7M100.9 35.5h.7M88.8 62.9h.7M88.8 45.8h.7M88.9 39.0h.7M88.7 52.7h.7M88.9 41.2h.7M89.1 69.6h.7M88.8 63.0h.7M88.8 38.6h.7M89.1 60.3h.7M89.1 54.7h.7M88.7 67.2h.7M89.1 44.8h.7M88.9 39.7h.7M88.9 57.5h.7M88.8 78.3h.7M88.8 56.4h.7M89.0 79.0h.7M88.7 44.0h.7M89.1 69.0h.7M89.0 81.3h.7M89.1 64.1h.7M88.7 68.7h.7M88.8 66.5h.7M88.8 58.5h.7M88.9 70.3h.7M88.8 70.9h.7M88.6 41.4h.7M88.9 50.6h.7M89.0 57.0h.7M89.0 49.3h.7M88.9 67.0h.7M88.9 73.1h.7M88.7 59.4h.7M88.7 68.7h.7M89.1 73.3h.7M88.9 38.1h.7M88.7 43.7h.7M88.7 80.3h.7M89.0 61.6h.7M88.6 47.8h.7M88.9 72.3h.7M89.0 64.3h.7M89.1 59.4h.7M88.6 51.3h.7M88.7 77.1h.7M89.0 67.1h.7M88.7 74.6h.7M88.7 76.9h.7M88.8 50.0h.7M88.8 74.4h.7M108.8 59.6h.7M89.9 63.5h.7M100.1 62.7h.7M109.5 46.0h.7M102.0 59.8h.7M113.2 41.8h.7M115.1 64.0h.7M107.2 33.4h.7M99.3 45.1h.7M89.5 49.1h.7M97.6 60.9h.7M97.5 29.3h.7M116.3 57.9h.7M106.7 44.6h.7M101.8 46.8h.7M97.2 60.7h.7M93.4 49.1h.7M90.3 61.2h.7M96.5 34.9h.7M110.6 31.4h.7M99.0 29.5h.7M97.8 31.4h.7M112.0 35.4h.7M99.5 58.7h.7M91.2 52.9h.7M90.0 59.8h.7M93.8 58.4h.7M98.4 53.5h.7M109.0 42.2h.7M94.8 45.7h.7M105.3 29.8h.7M91.1 56.4h.7M90.7 34.7h.7M94.7 55.4h.7M89.6 52.4h.7M91.7 34.0h.7M101.1 50.1h.7M103.1 36.5h.7M108.4 45.5h.7M116.3 35.2h.7M102.1 55.0h.7M113.2 39.0h.7M111.2 37.0h.7M94.8 52.3h.7M116.2 58.2h.7" stroke="#000" stroke-width="0.7" opacity="0.22" fill="none"/>
<rect x="88.3" y="24.6" width="57.30" height="57.70" fill="none" stroke="#444" stroke-width="0.55"/>
<line x1="108.50" y1="24.60" x2="108.50" y2="82.30" stroke="#555" stroke-width="0.5"/>
<line x1="88.30" y1="64.20" x2="145.60" y2="64.20" stroke="#555" stroke-width="0.5"/>
<text x="117.00" y="15.60" font-size="5.9" text-anchor="middle" font-weight="normal">+anti-CD25</text>
<text x="112.00" y="23.60" font-size="2.6" text-anchor="middle" font-weight="normal" fill="#111">Data.014</text>
<text x="100.00" y="48.00" font-size="4.0" text-anchor="middle" font-weight="bold">24.61%</text>
<text x="135.30" y="48.00" font-size="4.0" text-anchor="middle" font-weight="bold">0.12%</text>
<text x="135.30" y="72.00" font-size="4.0" text-anchor="middle" font-weight="bold">2.82%</text>
<text x="97.70" y="70.00" font-size="4.0" text-anchor="middle" font-weight="bold">72.44%</text>
<text x="88.60" y="86.30" font-size="2.9" text-anchor="middle" font-weight="normal" fill="#222">10<tspan dy="-1.2" font-size="2">0</tspan></text>
<line x1="88.30" y1="82.30" x2="88.30" y2="83.30" stroke="#333" stroke-width="0.4"/>
<text x="102.92" y="86.30" font-size="2.9" text-anchor="middle" font-weight="normal" fill="#222">10<tspan dy="-1.2" font-size="2">1</tspan></text>
<line x1="102.62" y1="82.30" x2="102.62" y2="83.30" stroke="#333" stroke-width="0.4"/>
<text x="117.25" y="86.30" font-size="2.9" text-anchor="middle" font-weight="normal" fill="#222">10<tspan dy="-1.2" font-size="2">2</tspan></text>
<line x1="116.95" y1="82.30" x2="116.95" y2="83.30" stroke="#333" stroke-width="0.4"/>
<text x="131.57" y="86.30" font-size="2.9" text-anchor="middle" font-weight="normal" fill="#222">10<tspan dy="-1.2" font-size="2">3</tspan></text>
<line x1="131.27" y1="82.30" x2="131.27" y2="83.30" stroke="#333" stroke-width="0.4"/>
<text x="145.90" y="86.30" font-size="2.9" text-anchor="middle" font-weight="normal" fill="#222">10<tspan dy="-1.2" font-size="2">4</tspan></text>
<line x1="145.60" y1="82.30" x2="145.60" y2="83.30" stroke="#333" stroke-width="0.4"/>
<text x="87.10" y="83.70" font-size="2.9" text-anchor="end" font-weight="normal" fill="#222">10<tspan dy="-1.2" font-size="2">0</tspan></text>
<line x1="87.30" y1="82.30" x2="88.30" y2="82.30" stroke="#333" stroke-width="0.4"/>
<text x="87.10" y="69.28" font-size="2.9" text-anchor="end" font-weight="normal" fill="#222">10<tspan dy="-1.2" font-size="2">1</tspan></text>
<line x1="87.30" y1="67.88" x2="88.30" y2="67.88" stroke="#333" stroke-width="0.4"/>
<text x="87.10" y="54.85" font-size="2.9" text-anchor="end" font-weight="normal" fill="#222">10<tspan dy="-1.2" font-size="2">2</tspan></text>
<line x1="87.30" y1="53.45" x2="88.30" y2="53.45" stroke="#333" stroke-width="0.4"/>
<text x="87.10" y="40.42" font-size="2.9" text-anchor="end" font-weight="normal" fill="#222">10<tspan dy="-1.2" font-size="2">3</tspan></text>
<line x1="87.30" y1="39.02" x2="88.30" y2="39.02" stroke="#333" stroke-width="0.4"/>
<text x="87.10" y="26.00" font-size="2.9" text-anchor="end" font-weight="normal" fill="#222">10<tspan dy="-1.2" font-size="2">4</tspan></text>
<line x1="87.30" y1="24.60" x2="88.30" y2="24.60" stroke="#333" stroke-width="0.4"/>
<text x="115.95" y="89.70" font-size="2.6" text-anchor="middle" font-weight="normal" fill="#222">CD25 PE-CY7</text>
<text transform="translate(81.60,55.45) rotate(-90)" font-size="2.6" text-anchor="middle" font-weight="normal" fill="#222">CD4 PE</text>
<line x1="177.20" y1="14.20" x2="177.20" y2="82.70" stroke="#000" stroke-width="0.8"/>
<line x1="176.80" y1="82.30" x2="279.60" y2="82.30" stroke="#000" stroke-width="0.8"/>
<line x1="175.40" y1="82.30" x2="177.20" y2="82.30" stroke="#000" stroke-width="0.8"/>
<text x="175.20" y="84.17" font-size="5.2" text-anchor="end" font-weight="bold">0.0</text>
<line x1="175.40" y1="65.35" x2="177.20" y2="65.35" stroke="#000" stroke-width="0.8"/>
<text x="175.20" y="67.22" font-size="5.2" text-anchor="end" font-weight="bold">0.1</text>
<line x1="175.40" y1="48.40" x2="177.20" y2="48.40" stroke="#000" stroke-width="0.8"/>
<text x="175.20" y="50.27" font-size="5.2" text-anchor="end" font-weight="bold">0.2</text>
<line x1="175.40" y1="31.45" x2="177.20" y2="31.45" stroke="#000" stroke-width="0.8"/>
<text x="175.20" y="33.32" font-size="5.2" text-anchor="end" font-weight="bold">0.3</text>
<line x1="175.40" y1="14.50" x2="177.20" y2="14.50" stroke="#000" stroke-width="0.8"/>
<text x="175.20" y="16.37" font-size="5.2" text-anchor="end" font-weight="bold">0.4</text>
<text transform="translate(165.80,47.00) rotate(-90)" font-size="5.3" text-anchor="middle" font-weight="bold">OD450</text>
<circle cx="192.74" cy="33.24" r="0.8" fill="#000"/>
<circle cx="190.00" cy="35.07" r="0.8" fill="#000"/>
<circle cx="192.74" cy="35.44" r="0.8" fill="#000"/>
<circle cx="185.43" cy="36.35" r="0.8" fill="#000"/>
<circle cx="187.80" cy="36.35" r="0.8" fill="#000"/>
<circle cx="192.74" cy="37.63" r="0.8" fill="#000"/>
<circle cx="185.43" cy="38.73" r="0.8" fill="#000"/>
<circle cx="190.00" cy="38.73" r="0.8" fill="#000"/>
<circle cx="194.75" cy="38.73" r="0.8" fill="#000"/>
<circle cx="187.80" cy="40.56" r="0.8" fill="#000"/>
<circle cx="192.38" cy="40.56" r="0.8" fill="#000"/>
<circle cx="196.04" cy="40.19" r="0.8" fill="#000"/>
<circle cx="183.23" cy="42.02" r="0.8" fill="#000"/>
<circle cx="185.43" cy="42.02" r="0.8" fill="#000"/>
<circle cx="187.80" cy="42.02" r="0.8" fill="#000"/>
<circle cx="190.00" cy="42.02" r="0.8" fill="#000"/>
<circle cx="192.38" cy="42.02" r="0.8" fill="#000"/>
<circle cx="194.75" cy="42.02" r="0.8" fill="#000"/>
<circle cx="197.86" cy="42.02" r="0.8" fill="#000"/>
<circle cx="185.43" cy="43.67" r="0.8" fill="#000"/>
<circle cx="187.80" cy="43.67" r="0.8" fill="#000"/>
<circle cx="190.00" cy="43.67" r="0.8" fill="#000"/>
<circle cx="192.38" cy="43.67" r="0.8" fill="#000"/>
<circle cx="194.75" cy="43.67" r="0.8" fill="#000"/>
<circle cx="187.80" cy="45.50" r="0.8" fill="#000"/>
<circle cx="192.38" cy="45.86" r="0.8" fill="#000"/>
<circle cx="185.43" cy="46.96" r="0.8" fill="#000"/>
<circle cx="187.80" cy="46.96" r="0.8" fill="#000"/>
<circle cx="190.55" cy="46.96" r="0.8" fill="#000"/>
<circle cx="193.29" cy="46.96" r="0.8" fill="#000"/>
<circle cx="190.55" cy="48.61" r="0.8" fill="#000"/>
<circle cx="192.74" cy="48.61" r="0.8" fill="#000"/>
<circle cx="185.43" cy="50.99" r="0.8" fill="#000"/>
<circle cx="187.80" cy="51.53" r="0.8" fill="#000"/>
<circle cx="195.12" cy="51.53" r="0.8" fill="#000"/>
<circle cx="190.00" cy="52.63" r="0.8" fill="#000"/>
<line x1="183.00" y1="41.80" x2="198.60" y2="41.80" stroke="#222" stroke-width="0.6"/>
<circle cx="215.61" cy="18.61" r="0.85" fill="#000"/>
<circle cx="215.61" cy="22.63" r="0.85" fill="#000"/>
<circle cx="215.61" cy="28.49" r="0.85" fill="#000"/>
<circle cx="217.99" cy="32.14" r="0.85" fill="#000"/>
<circle cx="213.41" cy="33.61" r="0.85" fill="#000"/>
<circle cx="215.61" cy="34.16" r="0.85" fill="#000"/>
<circle cx="213.41" cy="45.13" r="0.85" fill="#000"/>
<circle cx="217.99" cy="45.13" r="0.85" fill="#000"/>
<circle cx="215.61" cy="46.96" r="0.85" fill="#000"/>
<line x1="207.40" y1="34.20" x2="224.20" y2="34.20" stroke="#222" stroke-width="0.6"/>
<circle cx="241.10" cy="32.33" r="0.85" fill="#000"/>
<circle cx="241.10" cy="37.63" r="0.85" fill="#000"/>
<circle cx="238.72" cy="43.12" r="0.85" fill="#000"/>
<circle cx="241.10" cy="43.12" r="0.85" fill="#000"/>
<circle cx="243.29" cy="41.47" r="0.85" fill="#000"/>
<circle cx="243.29" cy="45.50" r="0.85" fill="#000"/>
<circle cx="241.10" cy="46.96" r="0.85" fill="#000"/>
<circle cx="238.72" cy="47.88" r="0.85" fill="#000"/>
<circle cx="241.10" cy="50.44" r="0.85" fill="#000"/>
<circle cx="235.61" cy="51.90" r="0.85" fill="#000"/>
<circle cx="238.72" cy="53.73" r="0.85" fill="#000"/>
<circle cx="241.10" cy="54.64" r="0.85" fill="#000"/>
<circle cx="243.29" cy="54.09" r="0.85" fill="#000"/>
<circle cx="246.04" cy="52.45" r="0.85" fill="#000"/>
<line x1="232.30" y1="47.30" x2="249.80" y2="47.30" stroke="#222" stroke-width="0.6"/>
<circle cx="266.70" cy="37.82" r="0.8" fill="#000"/>
<circle cx="264.33" cy="45.13" r="0.8" fill="#000"/>
<circle cx="266.70" cy="43.67" r="0.8" fill="#000"/>
<circle cx="266.70" cy="46.96" r="0.8" fill="#000"/>
<circle cx="268.90" cy="46.96" r="0.8" fill="#000"/>
<line x1="258.50" y1="44.20" x2="275.30" y2="44.20" stroke="#222" stroke-width="0.6"/>
<g transform="translate(193.20,86.50) rotate(-45)">
<text x="0" y="0" font-size="5.7" text-anchor="end" font-weight="bold">rat RBC alone</text>
<text x="-18.84" y="6.84" font-size="5.7" text-anchor="middle" font-weight="bold">n=34</text>
</g>
<g transform="translate(219.50,86.50) rotate(-45)">
<text x="0" y="0" font-size="5.7" text-anchor="end" font-weight="bold">rat RBC+ anti-CD25</text>
<text x="-26.37" y="6.84" font-size="5.7" text-anchor="middle" font-weight="bold">n=9</text>
</g>
<g transform="translate(243.50,86.50) rotate(-45)">
<text x="0" y="0" font-size="5.7" text-anchor="end" font-weight="bold">no injection</text>
<text x="-15.99" y="6.84" font-size="5.7" text-anchor="middle" font-weight="bold">n=14</text>
</g>
<g transform="translate(269.50,86.50) rotate(-45)">
<text x="0" y="0" font-size="5.7" text-anchor="end" font-weight="bold">anti-CD25 alone</text>
<text x="-21.54" y="6.84" font-size="5.7" text-anchor="middle" font-weight="bold">n=4</text>
</g>
<line x1="317.00" y1="18.25" x2="317.00" y2="82.70" stroke="#000" stroke-width="0.8"/>
<line x1="316.60" y1="82.30" x2="412.90" y2="82.30" stroke="#000" stroke-width="0.8"/>
<line x1="315.20" y1="82.30" x2="317.00" y2="82.30" stroke="#000" stroke-width="0.8"/>
<text x="315.00" y="83.96" font-size="4.6" text-anchor="end" font-weight="bold">0</text>
<line x1="315.20" y1="69.55" x2="317.00" y2="69.55" stroke="#000" stroke-width="0.8"/>
<text x="315.00" y="71.21" font-size="4.6" text-anchor="end" font-weight="bold">100</text>
<line x1="315.20" y1="56.80" x2="317.00" y2="56.80" stroke="#000" stroke-width="0.8"/>
<text x="315.00" y="58.46" font-size="4.6" text-anchor="end" font-weight="bold">200</text>
<line x1="315.20" y1="44.05" x2="317.00" y2="44.05" stroke="#000" stroke-width="0.8"/>
<text x="315.00" y="45.71" font-size="4.6" text-anchor="end" font-weight="bold">300</text>
<line x1="315.20" y1="31.30" x2="317.00" y2="31.30" stroke="#000" stroke-width="0.8"/>
<text x="315.00" y="32.96" font-size="4.6" text-anchor="end" font-weight="bold">400</text>
<line x1="315.20" y1="18.55" x2="317.00" y2="18.55" stroke="#000" stroke-width="0.8"/>
<text x="315.00" y="20.21" font-size="4.6" text-anchor="end" font-weight="bold">500</text>
<text transform="translate(297.90,45.50) rotate(-90)" font-size="4.2" text-anchor="middle" font-weight="bold">anti-rat RBCs</text>
<text transform="translate(303.40,45.50) rotate(-90)" font-size="4.2" text-anchor="middle" font-weight="bold">(Fluorescent units)</text>
<rect x="321.2" y="51.4" width="16.30" height="30.90" fill="#000"/>
<line x1="329.35" y1="47.40" x2="329.35" y2="51.40" stroke="#000" stroke-width="0.7"/>
<line x1="325.25" y1="47.40" x2="333.45" y2="47.40" stroke="#000" stroke-width="0.7"/>
<rect x="345.0" y="33.5" width="16.20" height="48.80" fill="#000"/>
<line x1="353.10" y1="25.30" x2="353.10" y2="33.50" stroke="#000" stroke-width="0.7"/>
<line x1="348.90" y1="25.30" x2="357.30" y2="25.30" stroke="#000" stroke-width="0.7"/>
<rect x="369.4" y="81.2" width="15.8" height="1.1" fill="#000"/>
<rect x="393.4" y="81.2" width="15.8" height="1.1" fill="#000"/>
<g transform="translate(330.20,86.50) rotate(-45)">
<text x="0" y="0" font-size="5.7" text-anchor="end" font-weight="bold">rat RBC alone</text>
<text x="-18.84" y="6.84" font-size="5.7" text-anchor="middle" font-weight="bold">n=34</text>
</g>
<g transform="translate(355.50,86.50) rotate(-45)">
<text x="0" y="0" font-size="5.7" text-anchor="end" font-weight="bold">rat RBC+ anti-CD25</text>
<text x="-26.37" y="6.84" font-size="5.7" text-anchor="middle" font-weight="bold">n=9</text>
</g>
<g transform="translate(379.00,86.50) rotate(-45)">
<text x="0" y="0" font-size="5.7" text-anchor="end" font-weight="bold">no injection</text>
<text x="-15.99" y="6.84" font-size="5.7" text-anchor="middle" font-weight="bold">n=14</text>
</g>
<g transform="translate(404.50,86.50) rotate(-45)">
<text x="0" y="0" font-size="5.7" text-anchor="end" font-weight="bold">anti-CD25 alone</text>
<text x="-21.54" y="6.84" font-size="5.7" text-anchor="middle" font-weight="bold">n=5</text>
</g>
<line x1="18.90" y1="164.20" x2="18.90" y2="231.30" stroke="#000" stroke-width="0.8"/>
<line x1="18.50" y1="230.90" x2="116.50" y2="230.90" stroke="#000" stroke-width="0.8"/>
<line x1="17.10" y1="230.90" x2="18.90" y2="230.90" stroke="#000" stroke-width="0.8"/>
<text x="16.90" y="232.77" font-size="5.2" text-anchor="end" font-weight="bold">0</text>
<line x1="17.10" y1="224.26" x2="18.90" y2="224.26" stroke="#000" stroke-width="0.8"/>
<text x="16.90" y="226.13" font-size="5.2" text-anchor="end" font-weight="bold">10</text>
<line x1="17.10" y1="217.62" x2="18.90" y2="217.62" stroke="#000" stroke-width="0.8"/>
<text x="16.90" y="219.49" font-size="5.2" text-anchor="end" font-weight="bold">20</text>
<line x1="17.10" y1="210.98" x2="18.90" y2="210.98" stroke="#000" stroke-width="0.8"/>
<text x="16.90" y="212.85" font-size="5.2" text-anchor="end" font-weight="bold">30</text>
<line x1="17.10" y1="204.34" x2="18.90" y2="204.34" stroke="#000" stroke-width="0.8"/>
<text x="16.90" y="206.21" font-size="5.2" text-anchor="end" font-weight="bold">40</text>
<line x1="17.10" y1="197.70" x2="18.90" y2="197.70" stroke="#000" stroke-width="0.8"/>
<text x="16.90" y="199.57" font-size="5.2" text-anchor="end" font-weight="bold">50</text>
<line x1="17.10" y1="191.06" x2="18.90" y2="191.06" stroke="#000" stroke-width="0.8"/>
<text x="16.90" y="192.93" font-size="5.2" text-anchor="end" font-weight="bold">60</text>
<line x1="17.10" y1="184.42" x2="18.90" y2="184.42" stroke="#000" stroke-width="0.8"/>
<text x="16.90" y="186.29" font-size="5.2" text-anchor="end" font-weight="bold">70</text>
<line x1="17.10" y1="177.78" x2="18.90" y2="177.78" stroke="#000" stroke-width="0.8"/>
<text x="16.90" y="179.65" font-size="5.2" text-anchor="end" font-weight="bold">80</text>
<line x1="17.10" y1="171.14" x2="18.90" y2="171.14" stroke="#000" stroke-width="0.8"/>
<text x="16.90" y="173.01" font-size="5.2" text-anchor="end" font-weight="bold">90</text>
<line x1="17.10" y1="164.50" x2="18.90" y2="164.50" stroke="#000" stroke-width="0.8"/>
<text x="16.90" y="166.37" font-size="5.2" text-anchor="end" font-weight="bold">100</text>
<text transform="translate(5.60,190.40) rotate(-90)" font-size="5.0" text-anchor="middle" font-weight="bold">% IgG sensitization</text>
<circle cx="28.30" cy="175.90" r="0.85" fill="#000"/>
<circle cx="28.30" cy="182.70" r="0.85" fill="#000"/>
<circle cx="28.30" cy="198.60" r="0.85" fill="#000"/>
<circle cx="28.30" cy="209.40" r="0.85" fill="#000"/>
<circle cx="23.60" cy="210.55" r="0.8" fill="#000"/>
<circle cx="28.17" cy="209.63" r="0.8" fill="#000"/>
<circle cx="25.97" cy="211.83" r="0.8" fill="#000"/>
<circle cx="30.55" cy="211.83" r="0.8" fill="#000"/>
<circle cx="28.17" cy="215.49" r="0.8" fill="#000"/>
<circle cx="25.97" cy="219.69" r="0.8" fill="#000"/>
<circle cx="28.17" cy="218.96" r="0.8" fill="#000"/>
<circle cx="30.55" cy="219.69" r="0.8" fill="#000"/>
<circle cx="25.97" cy="222.07" r="0.8" fill="#000"/>
<circle cx="28.17" cy="222.07" r="0.8" fill="#000"/>
<circle cx="33.29" cy="221.52" r="0.8" fill="#000"/>
<circle cx="23.60" cy="224.27" r="0.8" fill="#000"/>
<circle cx="28.17" cy="223.90" r="0.8" fill="#000"/>
<circle cx="30.55" cy="224.27" r="0.8" fill="#000"/>
<circle cx="23.60" cy="226.10" r="0.8" fill="#000"/>
<circle cx="25.24" cy="226.10" r="0.8" fill="#000"/>
<circle cx="26.89" cy="226.10" r="0.8" fill="#000"/>
<circle cx="28.72" cy="226.10" r="0.8" fill="#000"/>
<circle cx="30.55" cy="226.10" r="0.8" fill="#000"/>
<circle cx="32.74" cy="226.10" r="0.8" fill="#000"/>
<circle cx="23.60" cy="227.38" r="0.8" fill="#000"/>
<circle cx="25.24" cy="227.38" r="0.8" fill="#000"/>
<circle cx="26.89" cy="227.38" r="0.8" fill="#000"/>
<circle cx="28.72" cy="227.38" r="0.8" fill="#000"/>
<circle cx="30.55" cy="227.38" r="0.8" fill="#000"/>
<circle cx="32.74" cy="227.38" r="0.8" fill="#000"/>
<circle cx="25.97" cy="225.18" r="0.8" fill="#000"/>
<circle cx="31.46" cy="225.18" r="0.8" fill="#000"/>
<circle cx="28.17" cy="225.36" r="0.8" fill="#000"/>
<circle cx="24.15" cy="222.80" r="0.8" fill="#000"/>
<line x1="22.30" y1="218.40" x2="34.30" y2="218.40" stroke="#222" stroke-width="0.6"/>
<circle cx="47.92" cy="164.40" r="0.85" fill="#000"/>
<circle cx="47.92" cy="169.89" r="0.85" fill="#000"/>
<circle cx="47.92" cy="172.63" r="0.85" fill="#000"/>
<circle cx="47.92" cy="175.74" r="0.85" fill="#000"/>
<circle cx="45.55" cy="175.38" r="0.85" fill="#000"/>
<circle cx="47.92" cy="176.84" r="0.85" fill="#000"/>
<circle cx="45.55" cy="180.32" r="0.85" fill="#000"/>
<circle cx="47.92" cy="182.33" r="0.85" fill="#000"/>
<circle cx="49.75" cy="182.33" r="0.85" fill="#000"/>
<circle cx="47.92" cy="198.61" r="0.85" fill="#000"/>
<circle cx="47.90" cy="226.10" r="0.85" fill="#000"/>
<line x1="41.50" y1="183.10" x2="54.80" y2="183.10" stroke="#222" stroke-width="0.6"/>
<circle cx="62.30" cy="226.30" r="0.75" fill="#000"/>
<circle cx="63.85" cy="226.80" r="0.75" fill="#000"/>
<circle cx="65.40" cy="226.30" r="0.75" fill="#000"/>
<circle cx="66.95" cy="226.80" r="0.75" fill="#000"/>
<circle cx="68.50" cy="226.30" r="0.75" fill="#000"/>
<circle cx="70.05" cy="226.80" r="0.75" fill="#000"/>
<circle cx="71.60" cy="226.30" r="0.75" fill="#000"/>
<circle cx="62.80" cy="228.60" r="0.75" fill="#000"/>
<circle cx="64.30" cy="228.60" r="0.75" fill="#000"/>
<circle cx="65.80" cy="228.60" r="0.75" fill="#000"/>
<circle cx="67.30" cy="228.60" r="0.75" fill="#000"/>
<circle cx="68.80" cy="228.60" r="0.75" fill="#000"/>
<circle cx="70.30" cy="228.60" r="0.75" fill="#000"/>
<circle cx="71.80" cy="228.60" r="0.75" fill="#000"/>
<line x1="61.00" y1="227.60" x2="74.00" y2="227.60" stroke="#222" stroke-width="0.5"/>
<circle cx="87.44" cy="225.73" r="0.75" fill="#000"/>
<circle cx="85.24" cy="227.01" r="0.75" fill="#000"/>
<circle cx="87.44" cy="227.92" r="0.75" fill="#000"/>
<circle cx="89.63" cy="227.56" r="0.75" fill="#000"/>
<circle cx="92.01" cy="227.01" r="0.75" fill="#000"/>
<line x1="80.50" y1="227.20" x2="93.80" y2="227.20" stroke="#222" stroke-width="0.6"/>
<circle cx="103.90" cy="214.21" r="0.85" fill="#000"/>
<circle cx="107.92" cy="215.12" r="0.85" fill="#000"/>
<circle cx="106.09" cy="216.95" r="0.85" fill="#000"/>
<circle cx="106.09" cy="219.69" r="0.85" fill="#000"/>
<circle cx="106.09" cy="222.44" r="0.85" fill="#000"/>
<line x1="99.90" y1="217.90" x2="113.00" y2="217.90" stroke="#222" stroke-width="0.6"/>
<g transform="translate(31.80,237.00) rotate(-45)">
<text x="0" y="0" font-size="5.7" text-anchor="end" font-weight="bold">rat RBC alone</text>
<text x="-18.84" y="6.84" font-size="5.7" text-anchor="middle" font-weight="bold">n=34</text>
</g>
<g transform="translate(51.80,237.00) rotate(-45)">
<text x="0" y="0" font-size="5.7" text-anchor="end" font-weight="bold">rat RBC+ anti-CD25</text>
<text x="-26.37" y="6.84" font-size="5.7" text-anchor="middle" font-weight="bold">n=10</text>
</g>
<g transform="translate(69.80,237.00) rotate(-45)">
<text x="0" y="0" font-size="5.7" text-anchor="end" font-weight="bold">no injection</text>
<text x="-15.99" y="6.84" font-size="5.7" text-anchor="middle" font-weight="bold">n=14</text>
</g>
<g transform="translate(89.50,237.00) rotate(-45)">
<text x="0" y="0" font-size="5.7" text-anchor="end" font-weight="bold">anti-CD25 alone</text>
<text x="-21.54" y="6.84" font-size="5.7" text-anchor="middle" font-weight="bold">n=5</text>
</g>
<g transform="translate(109.80,237.00) rotate(-45)">
<text x="0" y="0" font-size="5.7" text-anchor="end" font-weight="bold">rat RBC+ Isotype</text>
<text x="-23.04" y="6.84" font-size="5.7" text-anchor="middle" font-weight="bold">control n=5</text>
</g>
<line x1="146.50" y1="159.51" x2="146.50" y2="231.40" stroke="#000" stroke-width="0.8"/>
<line x1="146.10" y1="231.00" x2="253.20" y2="231.00" stroke="#000" stroke-width="0.8"/>
<line x1="144.70" y1="231.00" x2="146.50" y2="231.00" stroke="#000" stroke-width="0.8"/>
<text x="144.50" y="232.87" font-size="5.2" text-anchor="end" font-weight="bold">0</text>
<line x1="144.70" y1="223.09" x2="146.50" y2="223.09" stroke="#000" stroke-width="0.8"/>
<text x="144.50" y="224.96" font-size="5.2" text-anchor="end" font-weight="bold">1</text>
<line x1="144.70" y1="215.18" x2="146.50" y2="215.18" stroke="#000" stroke-width="0.8"/>
<text x="144.50" y="217.05" font-size="5.2" text-anchor="end" font-weight="bold">2</text>
<line x1="144.70" y1="207.27" x2="146.50" y2="207.27" stroke="#000" stroke-width="0.8"/>
<text x="144.50" y="209.14" font-size="5.2" text-anchor="end" font-weight="bold">3</text>
<line x1="144.70" y1="199.36" x2="146.50" y2="199.36" stroke="#000" stroke-width="0.8"/>
<text x="144.50" y="201.23" font-size="5.2" text-anchor="end" font-weight="bold">4</text>
<line x1="144.70" y1="191.45" x2="146.50" y2="191.45" stroke="#000" stroke-width="0.8"/>
<text x="144.50" y="193.32" font-size="5.2" text-anchor="end" font-weight="bold">5</text>
<line x1="144.70" y1="183.54" x2="146.50" y2="183.54" stroke="#000" stroke-width="0.8"/>
<text x="144.50" y="185.41" font-size="5.2" text-anchor="end" font-weight="bold">6</text>
<line x1="144.70" y1="175.63" x2="146.50" y2="175.63" stroke="#000" stroke-width="0.8"/>
<text x="144.50" y="177.50" font-size="5.2" text-anchor="end" font-weight="bold">7</text>
<line x1="144.70" y1="167.72" x2="146.50" y2="167.72" stroke="#000" stroke-width="0.8"/>
<text x="144.50" y="169.59" font-size="5.2" text-anchor="end" font-weight="bold">8</text>
<line x1="144.70" y1="159.81" x2="146.50" y2="159.81" stroke="#000" stroke-width="0.8"/>
<text x="144.50" y="161.68" font-size="5.2" text-anchor="end" font-weight="bold">9</text>
<text transform="translate(136.00,194.50) rotate(-90)" font-size="5.1" text-anchor="middle" font-weight="bold">% reticulocytes</text>
<circle cx="156.72" cy="189.94" r="0.78" fill="#000"/>
<circle cx="154.34" cy="193.23" r="0.78" fill="#000"/>
<circle cx="159.10" cy="193.78" r="0.78" fill="#000"/>
<circle cx="156.72" cy="195.06" r="0.78" fill="#000"/>
<circle cx="154.34" cy="198.72" r="0.78" fill="#000"/>
<circle cx="156.72" cy="198.72" r="0.78" fill="#000"/>
<circle cx="151.23" cy="202.93" r="0.78" fill="#000"/>
<circle cx="153.06" cy="202.93" r="0.78" fill="#000"/>
<circle cx="154.89" cy="202.93" r="0.78" fill="#000"/>
<circle cx="156.72" cy="202.93" r="0.78" fill="#000"/>
<circle cx="158.55" cy="202.93" r="0.78" fill="#000"/>
<circle cx="160.38" cy="202.93" r="0.78" fill="#000"/>
<circle cx="162.21" cy="202.93" r="0.78" fill="#000"/>
<circle cx="152.15" cy="204.75" r="0.78" fill="#000"/>
<circle cx="154.34" cy="204.75" r="0.78" fill="#000"/>
<circle cx="156.72" cy="204.75" r="0.78" fill="#000"/>
<circle cx="159.10" cy="204.75" r="0.78" fill="#000"/>
<circle cx="161.29" cy="204.75" r="0.78" fill="#000"/>
<circle cx="151.23" cy="206.95" r="0.78" fill="#000"/>
<circle cx="153.97" cy="206.95" r="0.78" fill="#000"/>
<circle cx="156.72" cy="206.95" r="0.78" fill="#000"/>
<circle cx="159.46" cy="206.95" r="0.78" fill="#000"/>
<circle cx="162.21" cy="206.95" r="0.78" fill="#000"/>
<circle cx="156.72" cy="209.33" r="0.78" fill="#000"/>
<circle cx="159.10" cy="209.33" r="0.78" fill="#000"/>
<circle cx="153.06" cy="203.84" r="0.78" fill="#000"/>
<circle cx="155.80" cy="203.84" r="0.78" fill="#000"/>
<circle cx="158.00" cy="203.84" r="0.78" fill="#000"/>
<circle cx="160.74" cy="203.84" r="0.78" fill="#000"/>
<circle cx="155.26" cy="205.85" r="0.78" fill="#000"/>
<circle cx="158.00" cy="205.85" r="0.78" fill="#000"/>
<circle cx="152.51" cy="205.85" r="0.78" fill="#000"/>
<circle cx="160.56" cy="205.85" r="0.78" fill="#000"/>
<circle cx="154.34" cy="208.41" r="0.78" fill="#000"/>
<line x1="150.00" y1="203.30" x2="164.30" y2="203.30" stroke="#222" stroke-width="0.6"/>
<circle cx="178.67" cy="162.94" r="0.85" fill="#000"/>
<circle cx="177.39" cy="171.72" r="0.85" fill="#000"/>
<circle cx="180.50" cy="171.72" r="0.85" fill="#000"/>
<circle cx="178.67" cy="180.32" r="0.85" fill="#000"/>
<circle cx="178.67" cy="187.82" r="0.85" fill="#000"/>
<circle cx="181.41" cy="187.82" r="0.85" fill="#000"/>
<circle cx="175.92" cy="191.84" r="0.85" fill="#000"/>
<circle cx="180.50" cy="191.84" r="0.85" fill="#000"/>
<circle cx="178.12" cy="194.22" r="0.85" fill="#000"/>
<circle cx="178.12" cy="200.99" r="0.85" fill="#000"/>
<line x1="170.80" y1="184.50" x2="186.00" y2="184.50" stroke="#222" stroke-width="0.6"/>
<circle cx="196.96" cy="198.72" r="0.8" fill="#000"/>
<circle cx="199.34" cy="199.63" r="0.8" fill="#000"/>
<circle cx="201.53" cy="201.10" r="0.8" fill="#000"/>
<circle cx="199.34" cy="202.93" r="0.8" fill="#000"/>
<circle cx="196.96" cy="204.21" r="0.8" fill="#000"/>
<circle cx="201.53" cy="204.21" r="0.8" fill="#000"/>
<circle cx="194.77" cy="205.49" r="0.8" fill="#000"/>
<circle cx="197.87" cy="205.85" r="0.8" fill="#000"/>
<circle cx="205.19" cy="205.49" r="0.8" fill="#000"/>
<circle cx="194.77" cy="207.32" r="0.8" fill="#000"/>
<circle cx="196.96" cy="207.86" r="0.8" fill="#000"/>
<circle cx="201.53" cy="207.32" r="0.8" fill="#000"/>
<circle cx="199.34" cy="209.69" r="0.8" fill="#000"/>
<circle cx="201.53" cy="208.78" r="0.8" fill="#000"/>
<line x1="192.40" y1="205.10" x2="207.00" y2="205.10" stroke="#222" stroke-width="0.6"/>
<circle cx="220.74" cy="204.57" r="0.8" fill="#000"/>
<circle cx="218.91" cy="207.86" r="0.8" fill="#000"/>
<circle cx="221.29" cy="208.78" r="0.8" fill="#000"/>
<circle cx="223.48" cy="207.86" r="0.8" fill="#000"/>
<line x1="213.40" y1="207.30" x2="228.00" y2="207.30" stroke="#222" stroke-width="0.6"/>
<g transform="translate(158.50,237.00) rotate(-45)">
<text x="0" y="0" font-size="5.7" text-anchor="end" font-weight="bold">rat RBC alone</text>
<text x="-18.84" y="6.84" font-size="5.7" text-anchor="middle" font-weight="bold">n=34</text>
</g>
<g transform="translate(180.50,237.00) rotate(-45)">
<text x="0" y="0" font-size="5.7" text-anchor="end" font-weight="bold">rat RBC+ anti-CD25</text>
<text x="-26.37" y="6.84" font-size="5.7" text-anchor="middle" font-weight="bold">n=10</text>
</g>
<g transform="translate(201.50,237.00) rotate(-45)">
<text x="0" y="0" font-size="5.7" text-anchor="end" font-weight="bold">no injection</text>
<text x="-15.99" y="6.84" font-size="5.7" text-anchor="middle" font-weight="bold">n=14</text>
</g>
<g transform="translate(223.80,237.00) rotate(-45)">
<text x="0" y="0" font-size="5.7" text-anchor="end" font-weight="bold">anti-CD25 alone</text>
<text x="-21.54" y="6.84" font-size="5.7" text-anchor="middle" font-weight="bold">n=4</text>
</g>
<line x1="284.70" y1="163.30" x2="284.70" y2="231.00" stroke="#000" stroke-width="0.8"/>
<line x1="284.30" y1="230.60" x2="385.50" y2="230.60" stroke="#000" stroke-width="0.8"/>
<line x1="282.90" y1="230.60" x2="284.70" y2="230.60" stroke="#000" stroke-width="0.8"/>
<text x="282.70" y="232.40" font-size="5.0" text-anchor="end" font-weight="bold">0</text>
<line x1="282.90" y1="223.90" x2="284.70" y2="223.90" stroke="#000" stroke-width="0.8"/>
<text x="282.70" y="225.70" font-size="5.0" text-anchor="end" font-weight="bold">10</text>
<line x1="282.90" y1="217.20" x2="284.70" y2="217.20" stroke="#000" stroke-width="0.8"/>
<text x="282.70" y="219.00" font-size="5.0" text-anchor="end" font-weight="bold">20</text>
<line x1="282.90" y1="210.50" x2="284.70" y2="210.50" stroke="#000" stroke-width="0.8"/>
<text x="282.70" y="212.30" font-size="5.0" text-anchor="end" font-weight="bold">30</text>
<line x1="282.90" y1="203.80" x2="284.70" y2="203.80" stroke="#000" stroke-width="0.8"/>
<text x="282.70" y="205.60" font-size="5.0" text-anchor="end" font-weight="bold">40</text>
<line x1="282.90" y1="197.10" x2="284.70" y2="197.10" stroke="#000" stroke-width="0.8"/>
<text x="282.70" y="198.90" font-size="5.0" text-anchor="end" font-weight="bold">50</text>
<line x1="282.90" y1="190.40" x2="284.70" y2="190.40" stroke="#000" stroke-width="0.8"/>
<text x="282.70" y="192.20" font-size="5.0" text-anchor="end" font-weight="bold">60</text>
<line x1="282.90" y1="183.70" x2="284.70" y2="183.70" stroke="#000" stroke-width="0.8"/>
<text x="282.70" y="185.50" font-size="5.0" text-anchor="end" font-weight="bold">70</text>
<line x1="282.90" y1="177.00" x2="284.70" y2="177.00" stroke="#000" stroke-width="0.8"/>
<text x="282.70" y="178.80" font-size="5.0" text-anchor="end" font-weight="bold">80</text>
<line x1="282.90" y1="170.30" x2="284.70" y2="170.30" stroke="#000" stroke-width="0.8"/>
<text x="282.70" y="172.10" font-size="5.0" text-anchor="end" font-weight="bold">90</text>
<line x1="282.90" y1="163.60" x2="284.70" y2="163.60" stroke="#000" stroke-width="0.8"/>
<text x="282.70" y="165.40" font-size="5.0" text-anchor="end" font-weight="bold">100</text>
<text transform="translate(270.80,189.00) rotate(-90)" font-size="5.1" text-anchor="middle" font-weight="bold">%IgG sensitization</text>
<circle cx="296.80" cy="168.50" r="0.8" fill="#000"/>
<circle cx="296.80" cy="175.30" r="0.8" fill="#000"/>
<circle cx="296.80" cy="195.70" r="0.8" fill="#000"/>
<circle cx="296.73" cy="203.03" r="0.75" fill="#000"/>
<circle cx="294.51" cy="217.77" r="0.75" fill="#000"/>
<circle cx="297.14" cy="219.18" r="0.75" fill="#000"/>
<circle cx="299.76" cy="219.18" r="0.75" fill="#000"/>
<circle cx="297.14" cy="221.81" r="0.75" fill="#000"/>
<circle cx="297.14" cy="224.23" r="0.75" fill="#000"/>
<circle cx="299.16" cy="224.23" r="0.75" fill="#000"/>
<circle cx="295.12" cy="227.26" r="0.75" fill="#000"/>
<circle cx="297.14" cy="226.66" r="0.75" fill="#000"/>
<circle cx="299.16" cy="227.26" r="0.75" fill="#000"/>
<circle cx="292.09" cy="228.68" r="0.75" fill="#000"/>
<circle cx="294.11" cy="228.68" r="0.75" fill="#000"/>
<circle cx="296.13" cy="228.68" r="0.75" fill="#000"/>
<circle cx="298.15" cy="228.68" r="0.75" fill="#000"/>
<circle cx="300.16" cy="228.68" r="0.75" fill="#000"/>
<circle cx="302.18" cy="228.68" r="0.75" fill="#000"/>
<circle cx="289.06" cy="229.89" r="0.75" fill="#000"/>
<circle cx="291.08" cy="229.89" r="0.75" fill="#000"/>
<circle cx="293.10" cy="229.89" r="0.75" fill="#000"/>
<circle cx="295.12" cy="229.89" r="0.75" fill="#000"/>
<circle cx="297.14" cy="229.89" r="0.75" fill="#000"/>
<circle cx="299.16" cy="229.89" r="0.75" fill="#000"/>
<circle cx="301.58" cy="229.89" r="0.75" fill="#000"/>
<circle cx="304.20" cy="229.89" r="0.75" fill="#000"/>
<line x1="288.50" y1="219.80" x2="305.60" y2="219.80" stroke="#222" stroke-width="0.6"/>
<circle cx="319.35" cy="225.65" r="0.75" fill="#000"/>
<circle cx="322.38" cy="227.26" r="0.75" fill="#000"/>
<circle cx="320.36" cy="228.88" r="0.75" fill="#000"/>
<circle cx="324.40" cy="228.88" r="0.75" fill="#000"/>
<circle cx="321.37" cy="230.29" r="0.75" fill="#000"/>
<line x1="314.30" y1="228.30" x2="331.50" y2="228.30" stroke="#222" stroke-width="0.6"/>
<circle cx="347.62" cy="201.01" r="0.8" fill="#000"/>
<circle cx="350.65" cy="217.77" r="0.8" fill="#000"/>
<circle cx="345.20" cy="219.18" r="0.8" fill="#000"/>
<circle cx="347.62" cy="219.59" r="0.8" fill="#000"/>
<circle cx="345.60" cy="225.24" r="0.8" fill="#000"/>
<circle cx="348.63" cy="225.24" r="0.8" fill="#000"/>
<line x1="338.50" y1="218.20" x2="355.70" y2="218.20" stroke="#222" stroke-width="0.6"/>
<circle cx="372.86" cy="227.26" r="0.75" fill="#000"/>
<circle cx="369.83" cy="229.28" r="0.75" fill="#000"/>
<circle cx="371.85" cy="229.68" r="0.75" fill="#000"/>
<circle cx="373.87" cy="229.68" r="0.75" fill="#000"/>
<circle cx="376.30" cy="229.28" r="0.75" fill="#000"/>
<line x1="364.80" y1="229.30" x2="381.00" y2="229.30" stroke="#222" stroke-width="0.6"/>
<g transform="translate(300.00,236.00) rotate(-45)">
<text x="0" y="0" font-size="4.7" text-anchor="end" font-weight="bold">Rat RBC alone n=21</text>
</g>
<g transform="translate(325.50,236.00) rotate(-45)">
<text x="0" y="0" font-size="4.7" text-anchor="end" font-weight="bold">adoptive transfer CD4+CD25+</text>
<text x="-33.17" y="7.00" font-size="4.7" text-anchor="middle" font-weight="bold">+ rat RBC n=5</text>
</g>
<g transform="translate(353.50,236.00) rotate(-45)">
<text x="0" y="0" font-size="4.7" text-anchor="end" font-weight="bold">adoptive transfer CD4+CD25-</text>
<text x="-32.58" y="7.00" font-size="4.7" text-anchor="middle" font-weight="bold">+ rat RBC n=6</text>
</g>
<g transform="translate(378.50,236.00) rotate(-45)">
<text x="0" y="0" font-size="4.7" text-anchor="end" font-weight="bold">no injection n=5</text>
</g>
<line x1="422.50" y1="166.30" x2="422.50" y2="231.30" stroke="#000" stroke-width="0.8"/>
<line x1="422.10" y1="230.90" x2="520.00" y2="230.90" stroke="#000" stroke-width="0.8"/>
<line x1="420.70" y1="230.90" x2="422.50" y2="230.90" stroke="#000" stroke-width="0.8"/>
<text x="420.50" y="232.59" font-size="4.7" text-anchor="end" font-weight="bold">0</text>
<line x1="420.70" y1="218.04" x2="422.50" y2="218.04" stroke="#000" stroke-width="0.8"/>
<text x="420.50" y="219.73" font-size="4.7" text-anchor="end" font-weight="bold">100</text>
<line x1="420.70" y1="205.18" x2="422.50" y2="205.18" stroke="#000" stroke-width="0.8"/>
<text x="420.50" y="206.87" font-size="4.7" text-anchor="end" font-weight="bold">200</text>
<line x1="420.70" y1="192.32" x2="422.50" y2="192.32" stroke="#000" stroke-width="0.8"/>
<text x="420.50" y="194.01" font-size="4.7" text-anchor="end" font-weight="bold">300</text>
<line x1="420.70" y1="179.46" x2="422.50" y2="179.46" stroke="#000" stroke-width="0.8"/>
<text x="420.50" y="181.15" font-size="4.7" text-anchor="end" font-weight="bold">400</text>
<line x1="420.70" y1="166.60" x2="422.50" y2="166.60" stroke="#000" stroke-width="0.8"/>
<text x="420.50" y="168.29" font-size="4.7" text-anchor="end" font-weight="bold">500</text>
<text transform="translate(402.80,193.20) rotate(-90)" font-size="4.5" text-anchor="middle" font-weight="bold">Anti-rat RBC IgG</text>
<text transform="translate(409.20,193.20) rotate(-90)" font-size="4.5" text-anchor="middle" font-weight="bold">(Fluorescent units)</text>
<circle cx="434.65" cy="179.77" r="0.8" fill="#000"/>
<circle cx="434.65" cy="183.95" r="0.8" fill="#000"/>
<circle cx="434.65" cy="188.14" r="0.8" fill="#000"/>
<circle cx="432.79" cy="194.42" r="0.8" fill="#000"/>
<circle cx="434.65" cy="194.42" r="0.8" fill="#000"/>
<circle cx="436.28" cy="200.23" r="0.8" fill="#000"/>
<circle cx="431.63" cy="200.93" r="0.8" fill="#000"/>
<circle cx="438.60" cy="200.93" r="0.8" fill="#000"/>
<circle cx="433.26" cy="203.26" r="0.8" fill="#000"/>
<circle cx="429.30" cy="205.35" r="0.8" fill="#000"/>
<circle cx="431.63" cy="204.88" r="0.8" fill="#000"/>
<circle cx="434.65" cy="204.88" r="0.8" fill="#000"/>
<circle cx="437.44" cy="205.35" r="0.8" fill="#000"/>
<circle cx="439.77" cy="204.42" r="0.8" fill="#000"/>
<circle cx="430.47" cy="208.37" r="0.8" fill="#000"/>
<circle cx="432.79" cy="208.37" r="0.8" fill="#000"/>
<circle cx="436.28" cy="208.37" r="0.8" fill="#000"/>
<circle cx="438.60" cy="207.21" r="0.8" fill="#000"/>
<circle cx="431.63" cy="210.70" r="0.8" fill="#000"/>
<circle cx="434.65" cy="210.70" r="0.8" fill="#000"/>
<circle cx="434.65" cy="213.72" r="0.8" fill="#000"/>
<circle cx="436.74" cy="213.02" r="0.8" fill="#000"/>
<circle cx="434.65" cy="218.84" r="0.8" fill="#000"/>
<circle cx="434.65" cy="223.95" r="0.8" fill="#000"/>
<line x1="426.50" y1="204.40" x2="442.80" y2="204.40" stroke="#222" stroke-width="0.6"/>
<circle cx="461.40" cy="196.74" r="0.8" fill="#000"/>
<circle cx="458.37" cy="198.37" r="0.8" fill="#000"/>
<circle cx="458.37" cy="201.40" r="0.8" fill="#000"/>
<circle cx="458.37" cy="211.86" r="0.8" fill="#000"/>
<circle cx="461.40" cy="211.40" r="0.8" fill="#000"/>
<line x1="451.40" y1="204.20" x2="467.20" y2="204.20" stroke="#222" stroke-width="0.6"/>
<circle cx="482.79" cy="186.74" r="0.8" fill="#000"/>
<circle cx="482.79" cy="192.56" r="0.8" fill="#000"/>
<circle cx="482.79" cy="195.12" r="0.8" fill="#000"/>
<circle cx="482.79" cy="204.19" r="0.8" fill="#000"/>
<circle cx="482.79" cy="209.53" r="0.8" fill="#000"/>
<circle cx="485.12" cy="208.37" r="0.8" fill="#000"/>
<line x1="474.70" y1="199.50" x2="491.00" y2="199.50" stroke="#222" stroke-width="0.6"/>
<circle cx="501.00" cy="230.30" r="0.7" fill="#000"/>
<circle cx="503.20" cy="230.30" r="0.7" fill="#000"/>
<circle cx="505.40" cy="230.30" r="0.7" fill="#000"/>
<circle cx="507.60" cy="230.30" r="0.7" fill="#000"/>
<circle cx="509.80" cy="230.30" r="0.7" fill="#000"/>
<circle cx="512.00" cy="230.30" r="0.7" fill="#000"/>
<g transform="translate(434.50,237.20) rotate(-45)">
<text x="0" y="0" font-size="4.7" text-anchor="end" font-weight="bold">Rat RBC alone n=21</text>
</g>
<g transform="translate(459.00,237.20) rotate(-45)">
<text x="0" y="0" font-size="4.7" text-anchor="end" font-weight="bold">adoptive transfer CD4+CD25+</text>
<text x="-33.17" y="7.00" font-size="4.7" text-anchor="middle" font-weight="bold">+ rat RBC n=5</text>
</g>
<g transform="translate(489.00,237.20) rotate(-45)">
<text x="0" y="0" font-size="4.7" text-anchor="end" font-weight="bold">adoptive transfer CD4+CD25-</text>
<text x="-32.58" y="7.00" font-size="4.7" text-anchor="middle" font-weight="bold">+ rat RBC n=6</text>
</g>
<g transform="translate(511.80,238.00) rotate(-45)">
<text x="0" y="0" font-size="4.8" text-anchor="end" font-weight="bold">no injection n=5</text>
</g>
</svg>
</body></html>
